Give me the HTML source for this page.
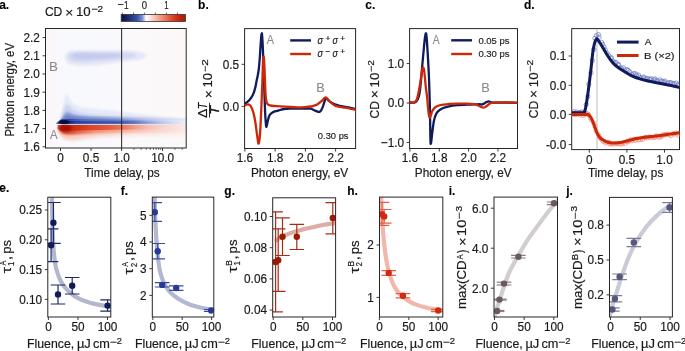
<!DOCTYPE html>
<html><head><meta charset="utf-8"><style>
html,body{margin:0;padding:0;background:#fff;width:685px;height:351px;overflow:hidden;}
svg{display:block;font-family:"Liberation Sans", sans-serif;will-change:transform;}
</style></head><body>
<svg width="685" height="351" viewBox="0 0 685 351" font-family='"Liberation Sans", sans-serif'><defs><clipPath id="clipA"><rect x="45.5" y="28.5" width="140.7" height="119.5"/></clipPath><filter id="bl1" x="-20%" y="-50%" width="140%" height="200%"><feGaussianBlur stdDeviation="1.0"/></filter><filter id="bl2" x="-20%" y="-50%" width="140%" height="200%"><feGaussianBlur stdDeviation="1.8"/></filter><filter id="bl05" x="-20%" y="-50%" width="140%" height="200%"><feGaussianBlur stdDeviation="0.6"/></filter><linearGradient id="bgA" x1="45" x2="186" y1="0" y2="0" gradientUnits="userSpaceOnUse"><stop offset="0" stop-color="#fcf6f6"/><stop offset="0.07" stop-color="#fbf7f9"/><stop offset="0.12" stop-color="#f8f9fd"/><stop offset="0.53" stop-color="#f9f9fd"/><stop offset="0.55" stop-color="#fbf9fb"/><stop offset="1" stop-color="#fcf8f8"/></linearGradient><linearGradient id="blueBand" x1="56" x2="186" y1="0" y2="0" gradientUnits="userSpaceOnUse">
<stop offset="0" stop-color="#3a50a8"/><stop offset="0.04" stop-color="#0c1248"/><stop offset="0.1" stop-color="#142060"/><stop offset="0.15" stop-color="#2a40a4"/><stop offset="0.3" stop-color="#3450ae"/><stop offset="0.51" stop-color="#3e58b2"/><stop offset="0.6" stop-color="#5a70bc"/><stop offset="0.7" stop-color="#8a9ad4"/><stop offset="0.8" stop-color="#b4c0e8"/><stop offset="0.9" stop-color="#d4dbf2"/><stop offset="1" stop-color="#eceff9"/></linearGradient><linearGradient id="blueBandU" x1="56" x2="186" y1="0" y2="0" gradientUnits="userSpaceOnUse">
<stop offset="0" stop-color="#5068b8"/><stop offset="0.05" stop-color="#2a3a88"/><stop offset="0.12" stop-color="#3a50ac"/><stop offset="0.2" stop-color="#566cbc"/><stop offset="0.4" stop-color="#6078c0"/><stop offset="0.51" stop-color="#6a80c4"/><stop offset="0.6" stop-color="#8090ce"/><stop offset="0.7" stop-color="#a6b2e0"/><stop offset="0.8" stop-color="#c8d0ee"/><stop offset="0.9" stop-color="#dfe4f5"/><stop offset="1" stop-color="#f0f2fa"/></linearGradient><linearGradient id="blueL4" x1="56" x2="186" y1="0" y2="0" gradientUnits="userSpaceOnUse">
<stop offset="0" stop-color="#6a80c8"/><stop offset="0.3" stop-color="#7e92cc"/><stop offset="0.5" stop-color="#94a4d8"/><stop offset="0.7" stop-color="#b8c2e8"/><stop offset="1" stop-color="#e4e8f7"/></linearGradient><linearGradient id="blueL3" x1="56" x2="186" y1="0" y2="0" gradientUnits="userSpaceOnUse">
<stop offset="0" stop-color="#8a9cd8"/><stop offset="0.4" stop-color="#a4b2e2"/><stop offset="0.7" stop-color="#c4cdee"/><stop offset="1" stop-color="#e8ebf8"/></linearGradient><linearGradient id="redBand" x1="57" x2="186" y1="0" y2="0" gradientUnits="userSpaceOnUse">
<stop offset="0" stop-color="#e05a3a"/><stop offset="0.04" stop-color="#c01c04"/><stop offset="0.13" stop-color="#cc2c0e"/><stop offset="0.25" stop-color="#dc4424"/><stop offset="0.4" stop-color="#e65a3a"/><stop offset="0.51" stop-color="#ec7456"/><stop offset="0.6" stop-color="#f29c84"/><stop offset="0.7" stop-color="#f6bcae"/><stop offset="0.82" stop-color="#f9d6ce"/><stop offset="1" stop-color="#fce8e4"/></linearGradient><linearGradient id="redLow" x1="57" x2="186" y1="0" y2="0" gradientUnits="userSpaceOnUse">
<stop offset="0" stop-color="#ec8060"/><stop offset="0.05" stop-color="#cc3414"/><stop offset="0.1" stop-color="#d84428"/><stop offset="0.16" stop-color="#e46448"/><stop offset="0.3" stop-color="#f09078"/><stop offset="0.51" stop-color="#f6b0a0"/><stop offset="0.72" stop-color="#f9cec4"/><stop offset="1" stop-color="#fcebe8"/></linearGradient><linearGradient id="redFade" x1="57" x2="186" y1="0" y2="0" gradientUnits="userSpaceOnUse">
<stop offset="0" stop-color="#f8c8bc"/><stop offset="0.3" stop-color="#f9d8ce"/><stop offset="0.6" stop-color="#fbe8e4"/><stop offset="1" stop-color="#fcf1ef"/></linearGradient><linearGradient id="cbar" x1="0" x2="1" y1="0" y2="0">
<stop offset="0" stop-color="#081040"/><stop offset="0.12" stop-color="#1a2d78"/><stop offset="0.25" stop-color="#3654a8"/>
<stop offset="0.33" stop-color="#7b90d8"/><stop offset="0.37" stop-color="#dde2f6"/><stop offset="0.39" stop-color="#ffffff"/>
<stop offset="0.44" stop-color="#fde8e4"/><stop offset="0.55" stop-color="#f6b4a6"/><stop offset="0.70" stop-color="#ec7256"/>
<stop offset="0.82" stop-color="#dc3a1c"/><stop offset="0.92" stop-color="#c22208"/><stop offset="1" stop-color="#a81c06"/></linearGradient><clipPath id="clipB"><rect x="244.6" y="28.6" width="111" height="119.9"/></clipPath><clipPath id="clipC"><rect x="409.6" y="28.6" width="107.9" height="119.9"/></clipPath><clipPath id="clipD"><rect x="571.7" y="28.6" width="107.8" height="121"/></clipPath><clipPath id="clipE"><rect x="47.8" y="197.2" width="63" height="119.8"/></clipPath><clipPath id="clipF"><rect x="152.3" y="197.1" width="61.5" height="119.9"/></clipPath><clipPath id="clipG"><rect x="272.7" y="197.8" width="62.9" height="119.2"/></clipPath><clipPath id="clipH"><rect x="379.5" y="197.1" width="63.3" height="119.9"/></clipPath><clipPath id="clipI"><rect x="494" y="197.1" width="63.5" height="119.9"/></clipPath><clipPath id="clipJ"><rect x="609.5" y="197.4" width="62.9" height="119.6"/></clipPath></defs><rect width="685" height="351" fill="#ffffff"/><text transform="translate(-0.85 9) scale(1 1.04)" font-size="12" text-anchor="start" font-weight="bold" fill="#000" stroke="#000" stroke-width="0.1">a.</text>
<text transform="translate(198.05 9.4) scale(1 1.04)" font-size="12" text-anchor="start" font-weight="bold" fill="#000" stroke="#000" stroke-width="0.1">b.</text>
<text transform="translate(365.35 9.4) scale(1 1.04)" font-size="12" text-anchor="start" font-weight="bold" fill="#000" stroke="#000" stroke-width="0.1">c.</text>
<text transform="translate(523.95 9.3) scale(1 1.04)" font-size="12" text-anchor="start" font-weight="bold" fill="#000" stroke="#000" stroke-width="0.1">d.</text>
<text transform="translate(-0.65 192.4) scale(1 1.04)" font-size="12" text-anchor="start" font-weight="bold" fill="#000" stroke="#000" stroke-width="0.1">e.</text>
<text transform="translate(120.8 195) scale(1 1.04)" font-size="12" text-anchor="start" font-weight="bold" fill="#000" stroke="#000" stroke-width="0.1">f.</text>
<text transform="translate(224.35 194.8) scale(1 1.04)" font-size="12" text-anchor="start" font-weight="bold" fill="#000" stroke="#000" stroke-width="0.1">g.</text>
<text transform="translate(347.25 194.8) scale(1 1.04)" font-size="12" text-anchor="start" font-weight="bold" fill="#000" stroke="#000" stroke-width="0.1">h.</text>
<text transform="translate(448.65 194.8) scale(1 1.04)" font-size="12" text-anchor="start" font-weight="bold" fill="#000" stroke="#000" stroke-width="0.1">i.</text>
<text transform="translate(566.15 194.8) scale(1 1.04)" font-size="12" text-anchor="start" font-weight="bold" fill="#000" stroke="#000" stroke-width="0.1">j.</text>
<g clip-path="url(#clipA)">
<rect x="45.5" y="28.5" width="140.7" height="119.5" fill="url(#bgA)"/>
<g filter="url(#bl1)">
<path d="M65,57 C65,51.5 70,50.2 78,50.2 L128,50.6 C138,50.9 146,52.5 146,55.5 C146,58.5 140,60 132,60.5 L112,63.5 C100,65.5 86,66 76,65.5 C68,65 65,61.5 65,57 Z" fill="#e4e7f6"/>
<path d="M68,56.5 C68,52.5 73,51.6 81,51.7 L124,52.3 C131,52.6 136,53.8 136,55.6 C136,57.4 131,58.4 124,58.8 L96,61.5 C84,62.6 74,62 70,60.5 C68.5,59.6 68,58.2 68,56.5 Z" fill="#d3d8f2"/>
<path d="M72,55.8 C72,53.6 76,53.0 83,53.1 L112,53.6 C117,53.8 121,54.6 121,55.7 C121,56.9 117,57.6 112,57.9 L88,59.2 C79,59.6 72,58.6 72,55.8 Z" fill="#c4cbed"/>
</g>
<path d="M58,127 L186,127 L186,137 L140,136.5 L100,137 L78,140 C66,142 58,138 58,127 Z" fill="url(#redFade)" filter="url(#bl2)"/>
<path d="M57,123.5 L60,119 L62.5,108 L64.8,97 L66.3,93.5 L68,96 L70.5,100.5 L74,104 L81,107.2 L90,108.6 L100,109.4 L112,110.6 L125,112 L140,114 L160,116.3 L180,118.3 L190,119 L190,123.5 Z" fill="#e5e9f8" filter="url(#bl1)"/>
<path d="M58.5,123.5 L61.5,117 L63.5,110 L65.5,105 L67,103.8 L69.5,106 L73,109.5 L80,112.5 L90,114.5 L102,115.6 L115,116.5 L130,117.2 L150,118.2 L170,119.3 L190,120.2 L190,123.5 Z" fill="#ccd3f0" filter="url(#bl1)"/>
<path d="M59.5,123.5 L62.5,118.5 L64.5,114 L66.5,111.5 L69,112.5 L73,114.5 L80,116.3 L90,117.3 L105,118 L125,118.6 L150,119.4 L170,120.2 L190,120.8 L190,123.5 Z" fill="url(#blueL3)" filter="url(#bl1)"/>
<path d="M60,123.5 L62.5,118.5 L65,115.5 L69,115.2 L76,116.3 L90,117.0 L120,117.6 L150,118.6 L190,119.6 L190,123.5 Z" fill="url(#blueL4)" filter="url(#bl1)"/>
<path d="M56,123.6 C57.5,122 59,120.3 61.5,119.2 L72,118.8 L90,119.2 L120,119.6 L150,120.2 L190,120.8 L190,123.6 Z" fill="url(#blueBandU)" filter="url(#bl05)"/>
<path d="M56,123.7 C57.5,122.6 59,121.6 61.5,121.0 L72,120.9 L90,121.0 L120,121.2 L150,121.5 L190,121.8 L190,123.7 Z" fill="url(#blueBand)" filter="url(#bl05)"/>
<ellipse cx="64.2" cy="121.9" rx="4.8" ry="1.8" fill="#05083a" filter="url(#bl05)"/>
<path d="M58,128 L190,128 L190,133 L140,132.8 L100,133.3 L78,134.2 C66,135.5 58.5,133.5 58,128 Z" fill="url(#redLow)" filter="url(#bl1)"/>
<path d="M57.6,125.0 L190,125.0 L190,129.6 L140,129.6 L100,129.9 L78,130.5 C66,131.5 58.2,131 57.6,128.5 Z" fill="url(#redBand)" filter="url(#bl05)"/>
<ellipse cx="65.5" cy="128.2" rx="6" ry="2.8" fill="#a00800" filter="url(#bl1)"/>
</g>
<rect x="45.5" y="28.5" width="140.7" height="119.5" fill="none" stroke="#262626" stroke-width="1"/>
<line x1="121.6" y1="28.5" x2="121.6" y2="148" stroke="#333" stroke-width="1.1"/>
<line x1="42.5" y1="37.6" x2="45.5" y2="37.6" stroke="#262626" stroke-width="0.9"/>
<text transform="translate(39.8 41.9) scale(1 1.07)" font-size="11.8" text-anchor="end" font-weight="normal" fill="#1a1a1a" stroke="#1a1a1a" stroke-width="0.18">2.2</text>
<line x1="42.5" y1="55.8" x2="45.5" y2="55.8" stroke="#262626" stroke-width="0.9"/>
<text transform="translate(39.8 60.1) scale(1 1.07)" font-size="11.8" text-anchor="end" font-weight="normal" fill="#1a1a1a" stroke="#1a1a1a" stroke-width="0.18">2.1</text>
<line x1="42.5" y1="74" x2="45.5" y2="74" stroke="#262626" stroke-width="0.9"/>
<text transform="translate(39.8 78.3) scale(1 1.07)" font-size="11.8" text-anchor="end" font-weight="normal" fill="#1a1a1a" stroke="#1a1a1a" stroke-width="0.18">2.0</text>
<line x1="42.5" y1="92.2" x2="45.5" y2="92.2" stroke="#262626" stroke-width="0.9"/>
<text transform="translate(39.8 96.5) scale(1 1.07)" font-size="11.8" text-anchor="end" font-weight="normal" fill="#1a1a1a" stroke="#1a1a1a" stroke-width="0.18">1.9</text>
<line x1="42.5" y1="110.4" x2="45.5" y2="110.4" stroke="#262626" stroke-width="0.9"/>
<text transform="translate(39.8 114.7) scale(1 1.07)" font-size="11.8" text-anchor="end" font-weight="normal" fill="#1a1a1a" stroke="#1a1a1a" stroke-width="0.18">1.8</text>
<line x1="42.5" y1="128.6" x2="45.5" y2="128.6" stroke="#262626" stroke-width="0.9"/>
<text transform="translate(39.8 132.9) scale(1 1.07)" font-size="11.8" text-anchor="end" font-weight="normal" fill="#1a1a1a" stroke="#1a1a1a" stroke-width="0.18">1.7</text>
<line x1="42.5" y1="146.8" x2="45.5" y2="146.8" stroke="#262626" stroke-width="0.9"/>
<text transform="translate(39.8 151.1) scale(1 1.07)" font-size="11.8" text-anchor="end" font-weight="normal" fill="#1a1a1a" stroke="#1a1a1a" stroke-width="0.18">1.6</text>
<line x1="60.5" y1="148" x2="60.5" y2="151" stroke="#262626" stroke-width="0.9"/>
<text transform="translate(60.5 162.3) scale(1 1.07)" font-size="11.8" text-anchor="middle" font-weight="normal" fill="#1a1a1a" stroke="#1a1a1a" stroke-width="0.18">0</text>
<line x1="91.05" y1="148" x2="91.05" y2="151" stroke="#262626" stroke-width="0.9"/>
<text transform="translate(91.05 162.3) scale(1 1.07)" font-size="11.8" text-anchor="middle" font-weight="normal" fill="#1a1a1a" stroke="#1a1a1a" stroke-width="0.18">0.5</text>
<line x1="121.6" y1="148" x2="121.6" y2="151" stroke="#262626" stroke-width="0.9"/>
<text transform="translate(121.6 162.3) scale(1 1.07)" font-size="11.8" text-anchor="middle" font-weight="normal" fill="#1a1a1a" stroke="#1a1a1a" stroke-width="0.18">1.0</text>
<line x1="162.6" y1="148" x2="162.6" y2="151" stroke="#262626" stroke-width="0.9"/>
<text transform="translate(162.6 162.3) scale(1 1.07)" font-size="11.8" text-anchor="middle" font-weight="normal" fill="#1a1a1a" stroke="#1a1a1a" stroke-width="0.18">10.0</text>
<line x1="133.94" y1="148" x2="133.94" y2="150" stroke="#262626" stroke-width="0.6"/>
<line x1="141.16" y1="148" x2="141.16" y2="150" stroke="#262626" stroke-width="0.6"/>
<line x1="146.28" y1="148" x2="146.28" y2="150" stroke="#262626" stroke-width="0.6"/>
<line x1="150.26" y1="148" x2="150.26" y2="150" stroke="#262626" stroke-width="0.6"/>
<line x1="153.5" y1="148" x2="153.5" y2="150" stroke="#262626" stroke-width="0.6"/>
<line x1="156.25" y1="148" x2="156.25" y2="150" stroke="#262626" stroke-width="0.6"/>
<line x1="158.63" y1="148" x2="158.63" y2="150" stroke="#262626" stroke-width="0.6"/>
<line x1="160.72" y1="148" x2="160.72" y2="150" stroke="#262626" stroke-width="0.6"/>
<line x1="174.94" y1="148" x2="174.94" y2="150" stroke="#262626" stroke-width="0.6"/>
<line x1="182.16" y1="148" x2="182.16" y2="150" stroke="#262626" stroke-width="0.6"/>
<text transform="translate(84.35 177) scale(1 1.07)" font-size="11.8" font-weight="normal" fill="#1a1a1a" stroke="#1a1a1a" stroke-width="0.18" textLength="75.36" lengthAdjust="spacingAndGlyphs">Time delay, ps</text>
<g transform="translate(14.4 135.7) rotate(-90)"><text transform="translate(-0.92 0) scale(1 1.07)" font-size="11.8" font-weight="normal" fill="#1a1a1a" stroke="#1a1a1a" stroke-width="0.18" textLength="93.69" lengthAdjust="spacingAndGlyphs">Photon energy, eV</text></g>
<text transform="translate(49.03 70.7) scale(1 1.07)" font-size="11.8" font-weight="normal" fill="#8a8a8a" stroke="#8a8a8a" stroke-width="0.1" textLength="8.87" lengthAdjust="spacingAndGlyphs">B</text>
<text transform="translate(49.95 138.5) scale(1 1.07)" font-size="11.8" font-weight="normal" fill="#8a8a8a" stroke="#8a8a8a" stroke-width="0.1" textLength="7.57" lengthAdjust="spacingAndGlyphs">A</text>
<text transform="translate(44.89 16.3) scale(1 1.07)" font-size="11.8" font-weight="normal" fill="#1a1a1a" stroke="#1a1a1a" stroke-width="0.18" textLength="17.42" lengthAdjust="spacingAndGlyphs">CD</text>
<text transform="translate(65.16 16.67) scale(1 1.07)" font-size="12.5" font-weight="normal" fill="#1a1a1a" stroke="#1a1a1a" stroke-width="0.15" textLength="8.08" lengthAdjust="spacingAndGlyphs">×</text>
<text transform="translate(75.89 16.3) scale(1 1.07)" font-size="11.8" font-weight="normal" fill="#1a1a1a" stroke="#1a1a1a" stroke-width="0.18" textLength="14.74" lengthAdjust="spacingAndGlyphs">10</text>
<text transform="translate(91.17 12.24) scale(1 1.07)" font-size="8.3" font-weight="normal" fill="#1a1a1a" stroke="#1a1a1a" stroke-width="0.18" textLength="6.46" lengthAdjust="spacingAndGlyphs">−</text>
<text transform="translate(97.62 11.9) scale(1 1.07)" font-size="8.3" font-weight="normal" fill="#1a1a1a" stroke="#1a1a1a" stroke-width="0.18" textLength="5.59" lengthAdjust="spacingAndGlyphs">2</text>
<rect x="121.2" y="14.4" width="64.2" height="7" fill="url(#cbar)" stroke="#333" stroke-width="0.8"/>
<line x1="122.6" y1="14.4" x2="122.6" y2="12.6" stroke="#262626" stroke-width="0.7"/>
<line x1="133.5" y1="14.4" x2="133.5" y2="12.6" stroke="#262626" stroke-width="0.7"/>
<line x1="144.4" y1="14.4" x2="144.4" y2="12.6" stroke="#262626" stroke-width="0.7"/>
<line x1="155.4" y1="14.4" x2="155.4" y2="12.6" stroke="#262626" stroke-width="0.7"/>
<line x1="166.4" y1="14.4" x2="166.4" y2="12.6" stroke="#262626" stroke-width="0.7"/>
<line x1="177.4" y1="14.4" x2="177.4" y2="12.6" stroke="#262626" stroke-width="0.7"/>
<text transform="translate(117.26 7.98) scale(1 1.07)" font-size="10" font-weight="normal" fill="#1a1a1a" stroke="#1a1a1a" stroke-width="0.15" textLength="6.26" lengthAdjust="spacingAndGlyphs">−</text>
<text transform="translate(123.97 8.8) scale(1 1.07)" font-size="10.5" font-weight="normal" fill="#1a1a1a" stroke="#1a1a1a" stroke-width="0.18" textLength="4.62" lengthAdjust="spacingAndGlyphs">1</text>
<text transform="translate(141.64 8.8) scale(1 1.07)" font-size="10.5" font-weight="normal" fill="#1a1a1a" stroke="#1a1a1a" stroke-width="0.18" textLength="5.32" lengthAdjust="spacingAndGlyphs">0</text>
<text transform="translate(164.2 8.8) scale(1 1.07)" font-size="10.5" font-weight="normal" fill="#1a1a1a" stroke="#1a1a1a" stroke-width="0.18" textLength="4.36" lengthAdjust="spacingAndGlyphs">1</text>
<rect x="244.6" y="28.6" width="111" height="119.9" fill="none" stroke="#262626" stroke-width="1"/>
<line x1="241.6" y1="64.3" x2="244.6" y2="64.3" stroke="#262626" stroke-width="0.9"/>
<text transform="translate(239.1 68.6) scale(1 1.07)" font-size="11.8" text-anchor="end" font-weight="normal" fill="#1a1a1a" stroke="#1a1a1a" stroke-width="0.18">0.5</text>
<line x1="241.6" y1="106.4" x2="244.6" y2="106.4" stroke="#262626" stroke-width="0.9"/>
<text transform="translate(239.1 110.7) scale(1 1.07)" font-size="11.8" text-anchor="end" font-weight="normal" fill="#1a1a1a" stroke="#1a1a1a" stroke-width="0.18">0.0</text>
<line x1="244.9" y1="148.5" x2="244.9" y2="151.5" stroke="#262626" stroke-width="0.9"/>
<text transform="translate(244.9 162.3) scale(1 1.07)" font-size="11.8" text-anchor="middle" font-weight="normal" fill="#1a1a1a" stroke="#1a1a1a" stroke-width="0.18">1.6</text>
<line x1="275.14" y1="148.5" x2="275.14" y2="151.5" stroke="#262626" stroke-width="0.9"/>
<text transform="translate(275.14 162.3) scale(1 1.07)" font-size="11.8" text-anchor="middle" font-weight="normal" fill="#1a1a1a" stroke="#1a1a1a" stroke-width="0.18">1.8</text>
<line x1="305.38" y1="148.5" x2="305.38" y2="151.5" stroke="#262626" stroke-width="0.9"/>
<text transform="translate(305.38 162.3) scale(1 1.07)" font-size="11.8" text-anchor="middle" font-weight="normal" fill="#1a1a1a" stroke="#1a1a1a" stroke-width="0.18">2.0</text>
<line x1="335.62" y1="148.5" x2="335.62" y2="151.5" stroke="#262626" stroke-width="0.9"/>
<text transform="translate(335.62 162.3) scale(1 1.07)" font-size="11.8" text-anchor="middle" font-weight="normal" fill="#1a1a1a" stroke="#1a1a1a" stroke-width="0.18">2.2</text>
<text transform="translate(250.95 177) scale(1 1.07)" font-size="11.8" font-weight="normal" fill="#1a1a1a" stroke="#1a1a1a" stroke-width="0.18" textLength="97.32" lengthAdjust="spacingAndGlyphs">Photon energy, eV</text>
<g transform="translate(213.4 117.6) rotate(-90)"><text transform="translate(-0.42 -6.9) scale(1 1.07)" font-size="11.8" font-weight="normal" fill="#1a1a1a" stroke="#1a1a1a" stroke-width="0.18" textLength="9.41" lengthAdjust="spacingAndGlyphs">Δ</text><text transform="translate(8.45 -6.9) scale(1 1.07)" font-size="11.8" font-weight="normal" fill="#1a1a1a" font-style="italic" stroke="#1a1a1a" stroke-width="0.18" textLength="6.52" lengthAdjust="spacingAndGlyphs">T</text><line x1="0" y1="-3.9" x2="14.8" y2="-3.9" stroke="#1a1a1a" stroke-width="0.9"/><text transform="translate(2.48 5.5) scale(1 1.07)" font-size="11.8" font-weight="normal" fill="#1a1a1a" font-style="italic" stroke="#1a1a1a" stroke-width="0.18" textLength="9.05" lengthAdjust="spacingAndGlyphs">T</text><text transform="translate(19.46 -0.73) scale(1 1.07)" font-size="12.5" font-weight="normal" fill="#1a1a1a" stroke="#1a1a1a" stroke-width="0.15" textLength="8.08" lengthAdjust="spacingAndGlyphs">×</text><text transform="translate(30.2 -1.2) scale(1 1.07)" font-size="11.8" font-weight="normal" fill="#1a1a1a" stroke="#1a1a1a" stroke-width="0.18" textLength="14.52" lengthAdjust="spacingAndGlyphs">10</text><text transform="translate(45.38 -5.46) scale(1 1.07)" font-size="8.3" font-weight="normal" fill="#1a1a1a" stroke="#1a1a1a" stroke-width="0.18" textLength="6.34" lengthAdjust="spacingAndGlyphs">−</text><text transform="translate(51.83 -5.8) scale(1 1.07)" font-size="8.3" font-weight="normal" fill="#1a1a1a" stroke="#1a1a1a" stroke-width="0.18" textLength="6.56" lengthAdjust="spacingAndGlyphs">2</text></g>
<text transform="translate(266.65 43.9) scale(1 1.07)" font-size="11.8" font-weight="normal" fill="#8a8a8a" stroke="#8a8a8a" stroke-width="0.1" textLength="7.26" lengthAdjust="spacingAndGlyphs">A</text>
<text transform="translate(316.27 91.9) scale(1 1.07)" font-size="11.8" font-weight="normal" fill="#8a8a8a" stroke="#8a8a8a" stroke-width="0.1" textLength="8.49" lengthAdjust="spacingAndGlyphs">B</text>
<text transform="translate(317.84 138.8)" font-size="9.2" font-weight="normal" fill="#1a1a1a" stroke="#1a1a1a" stroke-width="0.15" textLength="30.69" lengthAdjust="spacingAndGlyphs">0.30 ps</text>
<line x1="290.2" y1="40.4" x2="311" y2="40.4" stroke="#0f1b5a" stroke-width="2.4"/>
<line x1="290.2" y1="54" x2="311" y2="54" stroke="#cc2808" stroke-width="2.4"/>
<text transform="translate(317.39 43.8) scale(1 1.07)" font-size="10.5" font-weight="normal" fill="#1a1a1a" font-style="italic" stroke="#1a1a1a" stroke-width="0.18" textLength="5.53" lengthAdjust="spacingAndGlyphs">σ</text>
<text transform="translate(325.51 40.87) scale(1 1.07)" font-size="7.5" font-weight="normal" fill="#1a1a1a" stroke="#1a1a1a" stroke-width="0.18" textLength="4.92" lengthAdjust="spacingAndGlyphs">+</text>
<text transform="translate(332.5 43.8) scale(1 1.07)" font-size="10.5" font-weight="normal" fill="#1a1a1a" font-style="italic" stroke="#1a1a1a" stroke-width="0.18" textLength="5.43" lengthAdjust="spacingAndGlyphs">σ</text>
<text transform="translate(340.31 40.87) scale(1 1.07)" font-size="7.5" font-weight="normal" fill="#1a1a1a" stroke="#1a1a1a" stroke-width="0.18" textLength="4.92" lengthAdjust="spacingAndGlyphs">+</text>
<text transform="translate(317.39 57.2) scale(1 1.07)" font-size="10.5" font-weight="normal" fill="#1a1a1a" font-style="italic" stroke="#1a1a1a" stroke-width="0.18" textLength="5.53" lengthAdjust="spacingAndGlyphs">σ</text>
<text transform="translate(325.51 54.25) scale(1 1.07)" font-size="7.5" font-weight="normal" fill="#1a1a1a" stroke="#1a1a1a" stroke-width="0.18" textLength="4.92" lengthAdjust="spacingAndGlyphs">−</text>
<text transform="translate(332.5 57.2) scale(1 1.07)" font-size="10.5" font-weight="normal" fill="#1a1a1a" font-style="italic" stroke="#1a1a1a" stroke-width="0.18" textLength="5.43" lengthAdjust="spacingAndGlyphs">σ</text>
<text transform="translate(340.31 54.27) scale(1 1.07)" font-size="7.5" font-weight="normal" fill="#1a1a1a" stroke="#1a1a1a" stroke-width="0.18" textLength="4.92" lengthAdjust="spacingAndGlyphs">+</text>
<rect x="409.6" y="28.6" width="107.9" height="119.9" fill="none" stroke="#262626" stroke-width="1"/>
<line x1="406.6" y1="63.55" x2="409.6" y2="63.55" stroke="#262626" stroke-width="0.9"/>
<text transform="translate(404.1 67.85) scale(1 1.07)" font-size="11.8" text-anchor="end" font-weight="normal" fill="#1a1a1a" stroke="#1a1a1a" stroke-width="0.18">1.0</text>
<line x1="406.6" y1="103" x2="409.6" y2="103" stroke="#262626" stroke-width="0.9"/>
<text transform="translate(404.1 107.3) scale(1 1.07)" font-size="11.8" text-anchor="end" font-weight="normal" fill="#1a1a1a" stroke="#1a1a1a" stroke-width="0.18">0.0</text>
<line x1="406.6" y1="142.45" x2="409.6" y2="142.45" stroke="#262626" stroke-width="0.9"/>
<text transform="translate(404.1 146.75) scale(1 1.07)" font-size="11.8" text-anchor="end" font-weight="normal" fill="#1a1a1a" stroke="#1a1a1a" stroke-width="0.18">−1.0</text>
<line x1="409.9" y1="148.5" x2="409.9" y2="151.5" stroke="#262626" stroke-width="0.9"/>
<text transform="translate(409.9 162.3) scale(1 1.07)" font-size="11.8" text-anchor="middle" font-weight="normal" fill="#1a1a1a" stroke="#1a1a1a" stroke-width="0.18">1.6</text>
<line x1="439.26" y1="148.5" x2="439.26" y2="151.5" stroke="#262626" stroke-width="0.9"/>
<text transform="translate(439.26 162.3) scale(1 1.07)" font-size="11.8" text-anchor="middle" font-weight="normal" fill="#1a1a1a" stroke="#1a1a1a" stroke-width="0.18">1.8</text>
<line x1="468.62" y1="148.5" x2="468.62" y2="151.5" stroke="#262626" stroke-width="0.9"/>
<text transform="translate(468.62 162.3) scale(1 1.07)" font-size="11.8" text-anchor="middle" font-weight="normal" fill="#1a1a1a" stroke="#1a1a1a" stroke-width="0.18">2.0</text>
<line x1="497.98" y1="148.5" x2="497.98" y2="151.5" stroke="#262626" stroke-width="0.9"/>
<text transform="translate(497.98 162.3) scale(1 1.07)" font-size="11.8" text-anchor="middle" font-weight="normal" fill="#1a1a1a" stroke="#1a1a1a" stroke-width="0.18">2.2</text>
<text transform="translate(414.85 177) scale(1 1.07)" font-size="11.8" font-weight="normal" fill="#1a1a1a" stroke="#1a1a1a" stroke-width="0.18" textLength="96.72" lengthAdjust="spacingAndGlyphs">Photon energy, eV</text>
<g transform="translate(378.5 117.8) rotate(-90)"><text transform="translate(-0.61 0) scale(1 1.07)" font-size="11.8" font-weight="normal" fill="#1a1a1a" stroke="#1a1a1a" stroke-width="0.18" textLength="17.42" lengthAdjust="spacingAndGlyphs">CD</text><text transform="translate(19.66 0.37) scale(1 1.07)" font-size="12.5" font-weight="normal" fill="#1a1a1a" stroke="#1a1a1a" stroke-width="0.15" textLength="8.08" lengthAdjust="spacingAndGlyphs">×</text><text transform="translate(30.39 0) scale(1 1.07)" font-size="11.8" font-weight="normal" fill="#1a1a1a" stroke="#1a1a1a" stroke-width="0.18" textLength="14.74" lengthAdjust="spacingAndGlyphs">10</text><text transform="translate(45.67 -4.06) scale(1 1.07)" font-size="8.3" font-weight="normal" fill="#1a1a1a" stroke="#1a1a1a" stroke-width="0.18" textLength="6.46" lengthAdjust="spacingAndGlyphs">−</text><text transform="translate(52.12 -4.4) scale(1 1.07)" font-size="8.3" font-weight="normal" fill="#1a1a1a" stroke="#1a1a1a" stroke-width="0.18" textLength="5.59" lengthAdjust="spacingAndGlyphs">2</text></g>
<text transform="translate(432.86 43.9) scale(1 1.07)" font-size="11.8" font-weight="normal" fill="#8a8a8a" stroke="#8a8a8a" stroke-width="0.1" textLength="6.86" lengthAdjust="spacingAndGlyphs">A</text>
<text transform="translate(481.37 91.9) scale(1 1.07)" font-size="11.8" font-weight="normal" fill="#8a8a8a" stroke="#8a8a8a" stroke-width="0.1" textLength="8.49" lengthAdjust="spacingAndGlyphs">B</text>
<line x1="451.2" y1="40.3" x2="472" y2="40.3" stroke="#0f1b5a" stroke-width="2.4"/>
<line x1="451.2" y1="54" x2="472" y2="54" stroke="#cc2808" stroke-width="2.4"/>
<text transform="translate(478.44 43.8)" font-size="9.2" font-weight="normal" fill="#1a1a1a" stroke="#1a1a1a" stroke-width="0.15" textLength="31.1" lengthAdjust="spacingAndGlyphs">0.05 ps</text>
<text transform="translate(478.44 57.4)" font-size="9.2" font-weight="normal" fill="#1a1a1a" stroke="#1a1a1a" stroke-width="0.15" textLength="31.1" lengthAdjust="spacingAndGlyphs">0.30 ps</text>
<rect x="571.7" y="28.6" width="107.8" height="121" fill="none" stroke="#262626" stroke-width="1"/>
<line x1="568.7" y1="56" x2="571.7" y2="56" stroke="#262626" stroke-width="0.9"/>
<text transform="translate(566.2 60.3) scale(1 1.07)" font-size="11.8" text-anchor="end" font-weight="normal" fill="#1a1a1a" stroke="#1a1a1a" stroke-width="0.18">0.1</text>
<line x1="568.7" y1="85.3" x2="571.7" y2="85.3" stroke="#262626" stroke-width="0.9"/>
<text transform="translate(566.2 89.6) scale(1 1.07)" font-size="11.8" text-anchor="end" font-weight="normal" fill="#1a1a1a" stroke="#1a1a1a" stroke-width="0.18">0.0</text>
<line x1="568.7" y1="114.4" x2="571.7" y2="114.4" stroke="#262626" stroke-width="0.9"/>
<text transform="translate(566.2 118.7) scale(1 1.07)" font-size="11.8" text-anchor="end" font-weight="normal" fill="#1a1a1a" stroke="#1a1a1a" stroke-width="0.18">0.0</text>
<line x1="568.7" y1="144.6" x2="571.7" y2="144.6" stroke="#262626" stroke-width="0.9"/>
<text transform="translate(566.2 148.9) scale(1 1.07)" font-size="11.8" text-anchor="end" font-weight="normal" fill="#1a1a1a" stroke="#1a1a1a" stroke-width="0.18">-0.0</text>
<line x1="589.3" y1="149.6" x2="589.3" y2="152.6" stroke="#262626" stroke-width="0.9"/>
<text transform="translate(589.3 163.5) scale(1 1.07)" font-size="11.8" text-anchor="middle" font-weight="normal" fill="#1a1a1a" stroke="#1a1a1a" stroke-width="0.18">0</text>
<line x1="626.9" y1="149.6" x2="626.9" y2="152.6" stroke="#262626" stroke-width="0.9"/>
<text transform="translate(626.9 163.5) scale(1 1.07)" font-size="11.8" text-anchor="middle" font-weight="normal" fill="#1a1a1a" stroke="#1a1a1a" stroke-width="0.18">0.5</text>
<line x1="664.5" y1="149.6" x2="664.5" y2="152.6" stroke="#262626" stroke-width="0.9"/>
<text transform="translate(664.5 163.5) scale(1 1.07)" font-size="11.8" text-anchor="middle" font-weight="normal" fill="#1a1a1a" stroke="#1a1a1a" stroke-width="0.18">1.0</text>
<text transform="translate(587.95 177) scale(1 1.07)" font-size="11.8" font-weight="normal" fill="#1a1a1a" stroke="#1a1a1a" stroke-width="0.18" textLength="75.36" lengthAdjust="spacingAndGlyphs">Time delay, ps</text>
<g transform="translate(537.5 117.6) rotate(-90)"><text transform="translate(-0.61 0) scale(1 1.07)" font-size="11.8" font-weight="normal" fill="#1a1a1a" stroke="#1a1a1a" stroke-width="0.18" textLength="17.42" lengthAdjust="spacingAndGlyphs">CD</text><text transform="translate(19.66 0.37) scale(1 1.07)" font-size="12.5" font-weight="normal" fill="#1a1a1a" stroke="#1a1a1a" stroke-width="0.15" textLength="8.08" lengthAdjust="spacingAndGlyphs">×</text><text transform="translate(30.39 0) scale(1 1.07)" font-size="11.8" font-weight="normal" fill="#1a1a1a" stroke="#1a1a1a" stroke-width="0.18" textLength="14.74" lengthAdjust="spacingAndGlyphs">10</text><text transform="translate(45.67 -4.06) scale(1 1.07)" font-size="8.3" font-weight="normal" fill="#1a1a1a" stroke="#1a1a1a" stroke-width="0.18" textLength="6.46" lengthAdjust="spacingAndGlyphs">−</text><text transform="translate(52.12 -4.4) scale(1 1.07)" font-size="8.3" font-weight="normal" fill="#1a1a1a" stroke="#1a1a1a" stroke-width="0.18" textLength="5.59" lengthAdjust="spacingAndGlyphs">2</text></g>
<line x1="617" y1="42.1" x2="638.6" y2="42.1" stroke="#0f1b5a" stroke-width="3"/>
<line x1="617" y1="55.5" x2="638.6" y2="55.5" stroke="#cc2808" stroke-width="3"/>
<text transform="translate(644.8 45.3)" font-size="9.2" font-weight="normal" fill="#1a1a1a" stroke="#1a1a1a" stroke-width="0.15" textLength="6.64" lengthAdjust="spacingAndGlyphs">A</text>
<text transform="translate(643.89 58.6)" font-size="9.2" font-weight="normal" fill="#1a1a1a" stroke="#1a1a1a" stroke-width="0.15" textLength="30.69" lengthAdjust="spacingAndGlyphs">B (×2)</text>
<g clip-path="url(#clipB)">
<path d="M243,104 C243.27,103.95 243.67,104.23 244.6,103.7 C245.53,103.17 247.47,101.85 248.6,100.8 C249.73,99.75 250.55,98.73 251.4,97.4 C252.25,96.07 253.03,94.52 253.7,92.8 C254.37,91.08 254.93,89 255.4,87.1 C255.87,85.2 256.12,83.3 256.5,81.4 C256.88,79.5 257.32,77.77 257.7,75.7 C258.08,73.63 258.45,72.03 258.8,69 C259.15,65.97 259.5,61.5 259.8,57.5 C260.1,53.5 260.37,48.42 260.6,45 C260.83,41.58 261.02,38.97 261.2,37 C261.38,35.03 261.53,33.28 261.7,33.2 C261.87,33.12 262.02,34.2 262.2,36.5 C262.38,38.8 262.6,42.75 262.8,47 C263,51.25 263.22,57.17 263.4,62 C263.58,66.83 263.73,71 263.9,76 C264.07,81 264.23,86.83 264.4,92 C264.57,97.17 264.72,102.5 264.9,107 C265.08,111.5 265.28,115.75 265.5,119 C265.72,122.25 265.97,125.5 266.2,126.5 C266.43,127.5 266.62,126 266.9,125 C267.18,124 267.55,121.92 267.9,120.5 C268.25,119.08 268.57,117.58 269,116.5 C269.43,115.42 269.92,114.68 270.5,114 C271.08,113.32 271.78,112.83 272.5,112.4 C273.22,111.97 273.55,111.8 274.8,111.4 C276.05,111 278.47,110.4 280,110 C281.53,109.6 282.33,109.23 284,109 C285.67,108.77 287.83,108.67 290,108.6 C292.17,108.53 294.5,108.6 297,108.6 C299.5,108.6 302.7,108.58 305,108.6 C307.3,108.62 309.27,108.43 310.8,108.7 C312.33,108.97 313.17,109.75 314.2,110.2 C315.23,110.65 316.15,111.1 317,111.4 C317.85,111.7 318.63,112.15 319.3,112 C319.97,111.85 320.42,111.37 321,110.5 C321.58,109.63 322.22,108.3 322.8,106.8 C323.38,105.3 324,102.9 324.5,101.5 C325,100.1 325.3,98.73 325.8,98.4 C326.3,98.07 326.58,98.82 327.5,99.5 C328.42,100.18 330.05,101.72 331.3,102.5 C332.55,103.28 333.57,103.63 335,104.2 C336.43,104.77 337.67,105.38 339.9,105.9 C342.13,106.42 345.78,106.73 348.4,107.3 C351.02,107.87 354.17,108.93 355.6,109.3 C357.03,109.67 356.77,109.47 357,109.5" fill="none" stroke="#0f1b5a" stroke-width="2.3" stroke-linejoin="round" stroke-linecap="round"/>
<path d="M243,105.6 C243.27,105.58 243.85,105.7 244.6,105.5 C245.35,105.3 246.68,104.5 247.5,104.4 C248.32,104.3 248.83,104.4 249.5,104.9 C250.17,105.4 250.83,106.05 251.5,107.4 C252.17,108.75 252.87,110.57 253.5,113 C254.13,115.43 254.75,118.67 255.3,122 C255.85,125.33 256.35,129.75 256.8,133 C257.25,136.25 257.7,139.73 258,141.5 C258.3,143.27 258.38,143.68 258.6,143.6 C258.82,143.52 259.05,142.77 259.3,141 C259.55,139.23 259.85,136.5 260.1,133 C260.35,129.5 260.57,124.83 260.8,120 C261.03,115.17 261.27,109.67 261.5,104 C261.73,98.33 261.98,92 262.2,86 C262.42,80 262.63,72.58 262.8,68 C262.97,63.42 263.08,60.4 263.2,58.5 C263.32,56.6 263.38,56.68 263.5,56.6 C263.62,56.52 263.75,56.43 263.9,58 C264.05,59.57 264.22,62.17 264.4,66 C264.58,69.83 264.82,76.42 265,81 C265.18,85.58 265.28,90.17 265.5,93.5 C265.72,96.83 265.97,99.25 266.3,101 C266.63,102.75 266.88,103.28 267.5,104 C268.12,104.72 268.92,104.97 270,105.3 C271.08,105.63 272.33,105.83 274,106 C275.67,106.17 277.33,106.13 280,106.3 C282.67,106.47 287.15,106.83 290,107 C292.85,107.17 294.6,107.28 297.1,107.3 C299.6,107.32 302.72,107.23 305,107.1 C307.28,106.97 309.3,106.75 310.8,106.5 C312.3,106.25 312.87,105.98 314,105.6 C315.13,105.22 316.28,105 317.6,104.2 C318.92,103.4 320.53,101.93 321.9,100.8 C323.27,99.67 324.52,97.3 325.8,97.4 C327.08,97.5 328.12,100.07 329.6,101.4 C331.08,102.73 332.97,104.5 334.7,105.4 C336.43,106.3 338.28,106.43 340,106.8 C341.72,107.17 343.33,107.3 345,107.6 C346.67,107.9 348.23,108.25 350,108.6 C351.77,108.95 354.43,109.47 355.6,109.7 C356.77,109.93 356.77,109.95 357,110" fill="none" stroke="#cc2808" stroke-width="2.3" stroke-linejoin="round" stroke-linecap="round"/>
</g>
<g clip-path="url(#clipC)">
<path d="M408,102.5 C408.27,102.5 408.6,102.48 409.6,102.5 C410.6,102.52 412.85,102.82 414,102.6 C415.15,102.38 415.75,102.05 416.5,101.2 C417.25,100.35 417.92,99.37 418.5,97.5 C419.08,95.63 419.55,93.25 420,90 C420.45,86.75 420.8,82.33 421.2,78 C421.6,73.67 422,68.5 422.4,64 C422.8,59.5 423.2,55.17 423.6,51 C424,46.83 424.43,41.95 424.8,39 C425.17,36.05 425.5,33.63 425.8,33.3 C426.1,32.97 426.33,34.47 426.6,37 C426.87,39.53 427.13,44.33 427.4,48.5 C427.67,52.67 427.95,57.42 428.2,62 C428.45,66.58 428.7,71.33 428.9,76 C429.1,80.67 429.25,85.33 429.4,90 C429.55,94.67 429.68,99 429.8,104 C429.92,109 430.01,114.83 430.1,120 C430.19,125.17 430.27,131.1 430.35,135 C430.43,138.9 430.46,142.23 430.6,143.4 C430.74,144.57 430.95,143.57 431.2,142 C431.45,140.43 431.67,137.42 432.1,134 C432.53,130.58 433.23,124.58 433.8,121.5 C434.37,118.42 434.93,117.05 435.5,115.5 C436.07,113.95 436.45,113.15 437.2,112.2 C437.95,111.25 439,110.5 440,109.8 C441,109.1 441.7,108.58 443.2,108 C444.7,107.42 446.7,106.77 449,106.3 C451.3,105.83 453.5,105.48 457,105.2 C460.5,104.92 466.83,104.73 470,104.6 C473.17,104.47 474.45,104.47 476,104.4 C477.55,104.33 478.3,104.18 479.3,104.2 C480.3,104.22 481.13,104.63 482,104.5 C482.87,104.37 483.75,103.82 484.5,103.4 C485.25,102.98 485.78,102.35 486.5,102 C487.22,101.65 488,101.25 488.8,101.3 C489.6,101.35 489.43,102.08 491.3,102.3 C493.17,102.52 495.63,102.52 500,102.6 C504.37,102.68 514.33,102.77 517.5,102.8 C520.67,102.83 518.75,102.8 519,102.8" fill="none" stroke="#0f1b5a" stroke-width="2.3" stroke-linejoin="round" stroke-linecap="round"/>
<path d="M408,102 C408.27,102 408.58,101.95 409.6,102 C410.62,102.05 412.92,102.7 414.1,102.3 C415.28,101.9 416.03,100.9 416.7,99.6 C417.37,98.3 417.67,96.35 418.1,94.5 C418.53,92.65 418.92,90.58 419.3,88.5 C419.68,86.42 420.03,84.33 420.4,82 C420.77,79.67 421.17,76.67 421.5,74.5 C421.83,72.33 422.12,70.15 422.4,69 C422.68,67.85 422.93,67.52 423.2,67.6 C423.47,67.68 423.73,68.02 424,69.5 C424.27,70.98 424.52,73.75 424.8,76.5 C425.08,79.25 425.4,83.22 425.7,86 C426,88.78 426.33,91.03 426.6,93.2 C426.87,95.37 427.08,96.78 427.3,99 C427.52,101.22 427.68,104.17 427.9,106.5 C428.12,108.83 428.35,111.25 428.6,113 C428.85,114.75 429.13,116.3 429.4,117 C429.67,117.7 429.93,117.53 430.2,117.2 C430.47,116.87 430.68,115.93 431,115 C431.32,114.07 431.63,112.63 432.1,111.6 C432.57,110.57 433.23,109.55 433.8,108.8 C434.37,108.05 434.37,107.73 435.5,107.1 C436.63,106.47 438.35,105.52 440.6,105 C442.85,104.48 446.25,104.22 449,104 C451.75,103.78 454.27,103.75 457.1,103.7 C459.93,103.65 463.15,103.63 466,103.7 C468.85,103.77 472.12,103.77 474.2,104.1 C476.28,104.43 477.28,105.2 478.5,105.7 C479.72,106.2 480.65,106.78 481.5,107.1 C482.35,107.42 482.85,107.7 483.6,107.6 C484.35,107.5 485.28,106.93 486,106.5 C486.72,106.07 487.02,105.62 487.9,105 C488.78,104.38 489.28,103.23 491.3,102.8 C493.32,102.37 497.15,102.47 500,102.4 C502.85,102.33 505.48,102.33 508.4,102.4 C511.32,102.47 515.73,102.73 517.5,102.8 C519.27,102.87 518.75,102.8 519,102.8" fill="none" stroke="#cc2808" stroke-width="2.3" stroke-linejoin="round" stroke-linecap="round"/>
</g>
<g clip-path="url(#clipD)">
<line x1="597" y1="28.6" x2="597" y2="149.6" stroke="#c8c8c8" stroke-width="1.2"/>
<circle cx="570.69" cy="112.81" r="2.1" fill="none" stroke="#6a78bc" stroke-width="0.7"/>
<circle cx="572.34" cy="112.95" r="2.1" fill="none" stroke="#6a78bc" stroke-width="0.7"/>
<circle cx="574.15" cy="111.66" r="2.1" fill="none" stroke="#6a78bc" stroke-width="0.7"/>
<circle cx="574.92" cy="113.51" r="2.1" fill="none" stroke="#6a78bc" stroke-width="0.7"/>
<circle cx="576.71" cy="112.06" r="2.1" fill="none" stroke="#6a78bc" stroke-width="0.7"/>
<circle cx="579.09" cy="112.63" r="2.1" fill="none" stroke="#6a78bc" stroke-width="0.7"/>
<circle cx="580.4" cy="112.64" r="2.1" fill="none" stroke="#6a78bc" stroke-width="0.7"/>
<circle cx="581.67" cy="111.86" r="2.1" fill="none" stroke="#6a78bc" stroke-width="0.7"/>
<circle cx="583.16" cy="113.58" r="2.1" fill="none" stroke="#6a78bc" stroke-width="0.7"/>
<circle cx="584.53" cy="112.11" r="2.1" fill="none" stroke="#6a78bc" stroke-width="0.7"/>
<circle cx="586.21" cy="104.58" r="2.1" fill="none" stroke="#6a78bc" stroke-width="0.7"/>
<circle cx="587.81" cy="96.47" r="2.1" fill="none" stroke="#6a78bc" stroke-width="0.7"/>
<circle cx="588.76" cy="83.98" r="2.1" fill="none" stroke="#6a78bc" stroke-width="0.7"/>
<circle cx="590.94" cy="72.73" r="2.1" fill="none" stroke="#6a78bc" stroke-width="0.7"/>
<circle cx="592.26" cy="60.45" r="2.1" fill="none" stroke="#6a78bc" stroke-width="0.7"/>
<circle cx="593.76" cy="49.47" r="2.1" fill="none" stroke="#6a78bc" stroke-width="0.7"/>
<circle cx="594.87" cy="38.16" r="2.1" fill="none" stroke="#6a78bc" stroke-width="0.7"/>
<circle cx="596.43" cy="35.55" r="2.1" fill="none" stroke="#6a78bc" stroke-width="0.7"/>
<circle cx="598.45" cy="34.59" r="2.1" fill="none" stroke="#6a78bc" stroke-width="0.7"/>
<circle cx="599.06" cy="37.16" r="2.1" fill="none" stroke="#6a78bc" stroke-width="0.7"/>
<circle cx="601.56" cy="42.18" r="2.1" fill="none" stroke="#6a78bc" stroke-width="0.7"/>
<circle cx="602.65" cy="44.27" r="2.1" fill="none" stroke="#6a78bc" stroke-width="0.7"/>
<circle cx="604.01" cy="46.9" r="2.1" fill="none" stroke="#6a78bc" stroke-width="0.7"/>
<circle cx="605.32" cy="49.92" r="2.1" fill="none" stroke="#6a78bc" stroke-width="0.7"/>
<circle cx="607.1" cy="53.22" r="2.1" fill="none" stroke="#6a78bc" stroke-width="0.7"/>
<circle cx="608.72" cy="55.56" r="2.1" fill="none" stroke="#6a78bc" stroke-width="0.7"/>
<circle cx="610.43" cy="57.85" r="2.1" fill="none" stroke="#6a78bc" stroke-width="0.7"/>
<circle cx="611.71" cy="57.86" r="2.1" fill="none" stroke="#6a78bc" stroke-width="0.7"/>
<circle cx="613.43" cy="61.49" r="2.1" fill="none" stroke="#6a78bc" stroke-width="0.7"/>
<circle cx="614.99" cy="62.25" r="2.1" fill="none" stroke="#6a78bc" stroke-width="0.7"/>
<circle cx="616.26" cy="62.66" r="2.1" fill="none" stroke="#6a78bc" stroke-width="0.7"/>
<circle cx="617.9" cy="64.76" r="2.1" fill="none" stroke="#6a78bc" stroke-width="0.7"/>
<circle cx="618.74" cy="64.68" r="2.1" fill="none" stroke="#6a78bc" stroke-width="0.7"/>
<circle cx="620.92" cy="67.89" r="2.1" fill="none" stroke="#6a78bc" stroke-width="0.7"/>
<circle cx="621.51" cy="68.42" r="2.1" fill="none" stroke="#6a78bc" stroke-width="0.7"/>
<circle cx="623.39" cy="67.83" r="2.1" fill="none" stroke="#6a78bc" stroke-width="0.7"/>
<circle cx="624.75" cy="70.27" r="2.1" fill="none" stroke="#6a78bc" stroke-width="0.7"/>
<circle cx="626.95" cy="69.49" r="2.1" fill="none" stroke="#6a78bc" stroke-width="0.7"/>
<circle cx="628.14" cy="70.32" r="2.1" fill="none" stroke="#6a78bc" stroke-width="0.7"/>
<circle cx="629.76" cy="71.76" r="2.1" fill="none" stroke="#6a78bc" stroke-width="0.7"/>
<circle cx="631.46" cy="74.08" r="2.1" fill="none" stroke="#6a78bc" stroke-width="0.7"/>
<circle cx="632.51" cy="74.89" r="2.1" fill="none" stroke="#6a78bc" stroke-width="0.7"/>
<circle cx="633.77" cy="73.36" r="2.1" fill="none" stroke="#6a78bc" stroke-width="0.7"/>
<circle cx="635.62" cy="73.78" r="2.1" fill="none" stroke="#6a78bc" stroke-width="0.7"/>
<circle cx="636.64" cy="75.22" r="2.1" fill="none" stroke="#6a78bc" stroke-width="0.7"/>
<circle cx="638.63" cy="75.14" r="2.1" fill="none" stroke="#6a78bc" stroke-width="0.7"/>
<circle cx="639.45" cy="77.38" r="2.1" fill="none" stroke="#6a78bc" stroke-width="0.7"/>
<circle cx="641.28" cy="78" r="2.1" fill="none" stroke="#6a78bc" stroke-width="0.7"/>
<circle cx="643.48" cy="77.01" r="2.1" fill="none" stroke="#6a78bc" stroke-width="0.7"/>
<circle cx="644.45" cy="77.75" r="2.1" fill="none" stroke="#6a78bc" stroke-width="0.7"/>
<circle cx="646.17" cy="78.34" r="2.1" fill="none" stroke="#6a78bc" stroke-width="0.7"/>
<circle cx="647.57" cy="78.77" r="2.1" fill="none" stroke="#6a78bc" stroke-width="0.7"/>
<circle cx="649.53" cy="78.8" r="2.1" fill="none" stroke="#6a78bc" stroke-width="0.7"/>
<circle cx="650.42" cy="79.62" r="2.1" fill="none" stroke="#6a78bc" stroke-width="0.7"/>
<circle cx="651.69" cy="78.92" r="2.1" fill="none" stroke="#6a78bc" stroke-width="0.7"/>
<circle cx="654.07" cy="79.75" r="2.1" fill="none" stroke="#6a78bc" stroke-width="0.7"/>
<circle cx="655.06" cy="78.82" r="2.1" fill="none" stroke="#6a78bc" stroke-width="0.7"/>
<circle cx="656.4" cy="80.48" r="2.1" fill="none" stroke="#6a78bc" stroke-width="0.7"/>
<circle cx="657.42" cy="80.87" r="2.1" fill="none" stroke="#6a78bc" stroke-width="0.7"/>
<circle cx="659.66" cy="79.83" r="2.1" fill="none" stroke="#6a78bc" stroke-width="0.7"/>
<circle cx="661.15" cy="81.1" r="2.1" fill="none" stroke="#6a78bc" stroke-width="0.7"/>
<circle cx="662.72" cy="81.13" r="2.1" fill="none" stroke="#6a78bc" stroke-width="0.7"/>
<circle cx="664.25" cy="82.36" r="2.1" fill="none" stroke="#6a78bc" stroke-width="0.7"/>
<circle cx="664.93" cy="81.04" r="2.1" fill="none" stroke="#6a78bc" stroke-width="0.7"/>
<circle cx="667.21" cy="83.51" r="2.1" fill="none" stroke="#6a78bc" stroke-width="0.7"/>
<circle cx="668.2" cy="82.59" r="2.1" fill="none" stroke="#6a78bc" stroke-width="0.7"/>
<circle cx="670.11" cy="82.56" r="2.1" fill="none" stroke="#6a78bc" stroke-width="0.7"/>
<circle cx="671.34" cy="82.84" r="2.1" fill="none" stroke="#6a78bc" stroke-width="0.7"/>
<circle cx="672.84" cy="83.81" r="2.1" fill="none" stroke="#6a78bc" stroke-width="0.7"/>
<circle cx="674.26" cy="83.6" r="2.1" fill="none" stroke="#6a78bc" stroke-width="0.7"/>
<circle cx="676.33" cy="83.11" r="2.1" fill="none" stroke="#6a78bc" stroke-width="0.7"/>
<circle cx="677.58" cy="85.15" r="2.1" fill="none" stroke="#6a78bc" stroke-width="0.7"/>
<circle cx="678.77" cy="84.27" r="2.1" fill="none" stroke="#6a78bc" stroke-width="0.7"/>
<circle cx="570.79" cy="113.66" r="2.1" fill="none" stroke="#ec8a78" stroke-width="0.7"/>
<circle cx="572.68" cy="113.47" r="2.1" fill="none" stroke="#ec8a78" stroke-width="0.7"/>
<circle cx="574.04" cy="114.18" r="2.1" fill="none" stroke="#ec8a78" stroke-width="0.7"/>
<circle cx="574.97" cy="114.52" r="2.1" fill="none" stroke="#ec8a78" stroke-width="0.7"/>
<circle cx="576.44" cy="114.34" r="2.1" fill="none" stroke="#ec8a78" stroke-width="0.7"/>
<circle cx="577.98" cy="113.52" r="2.1" fill="none" stroke="#ec8a78" stroke-width="0.7"/>
<circle cx="579.91" cy="115.28" r="2.1" fill="none" stroke="#ec8a78" stroke-width="0.7"/>
<circle cx="581.05" cy="113.84" r="2.1" fill="none" stroke="#ec8a78" stroke-width="0.7"/>
<circle cx="583.15" cy="115.57" r="2.1" fill="none" stroke="#ec8a78" stroke-width="0.7"/>
<circle cx="584.59" cy="114.25" r="2.1" fill="none" stroke="#ec8a78" stroke-width="0.7"/>
<circle cx="586.57" cy="113.41" r="2.1" fill="none" stroke="#ec8a78" stroke-width="0.7"/>
<circle cx="587.93" cy="114.15" r="2.1" fill="none" stroke="#ec8a78" stroke-width="0.7"/>
<circle cx="588.57" cy="114.44" r="2.1" fill="none" stroke="#ec8a78" stroke-width="0.7"/>
<circle cx="590.27" cy="117.98" r="2.1" fill="none" stroke="#ec8a78" stroke-width="0.7"/>
<circle cx="591.62" cy="120.07" r="2.1" fill="none" stroke="#ec8a78" stroke-width="0.7"/>
<circle cx="593.67" cy="123.09" r="2.1" fill="none" stroke="#ec8a78" stroke-width="0.7"/>
<circle cx="595.06" cy="126.58" r="2.1" fill="none" stroke="#ec8a78" stroke-width="0.7"/>
<circle cx="595.97" cy="130.89" r="2.1" fill="none" stroke="#ec8a78" stroke-width="0.7"/>
<circle cx="598.22" cy="134.44" r="2.1" fill="none" stroke="#ec8a78" stroke-width="0.7"/>
<circle cx="599.28" cy="137.13" r="2.1" fill="none" stroke="#ec8a78" stroke-width="0.7"/>
<circle cx="600.94" cy="138.85" r="2.1" fill="none" stroke="#ec8a78" stroke-width="0.7"/>
<circle cx="602.85" cy="140.99" r="2.1" fill="none" stroke="#ec8a78" stroke-width="0.7"/>
<circle cx="603.69" cy="141.5" r="2.1" fill="none" stroke="#ec8a78" stroke-width="0.7"/>
<circle cx="605.53" cy="143.03" r="2.1" fill="none" stroke="#ec8a78" stroke-width="0.7"/>
<circle cx="607.28" cy="142.15" r="2.1" fill="none" stroke="#ec8a78" stroke-width="0.7"/>
<circle cx="609.08" cy="142.14" r="2.1" fill="none" stroke="#ec8a78" stroke-width="0.7"/>
<circle cx="609.9" cy="144.06" r="2.1" fill="none" stroke="#ec8a78" stroke-width="0.7"/>
<circle cx="611.08" cy="143.58" r="2.1" fill="none" stroke="#ec8a78" stroke-width="0.7"/>
<circle cx="612.45" cy="144.12" r="2.1" fill="none" stroke="#ec8a78" stroke-width="0.7"/>
<circle cx="614.82" cy="143.95" r="2.1" fill="none" stroke="#ec8a78" stroke-width="0.7"/>
<circle cx="616.45" cy="143.25" r="2.1" fill="none" stroke="#ec8a78" stroke-width="0.7"/>
<circle cx="617.73" cy="143.85" r="2.1" fill="none" stroke="#ec8a78" stroke-width="0.7"/>
<circle cx="619.1" cy="143.34" r="2.1" fill="none" stroke="#ec8a78" stroke-width="0.7"/>
<circle cx="620.91" cy="144.29" r="2.1" fill="none" stroke="#ec8a78" stroke-width="0.7"/>
<circle cx="621.97" cy="143.39" r="2.1" fill="none" stroke="#ec8a78" stroke-width="0.7"/>
<circle cx="622.97" cy="143.11" r="2.1" fill="none" stroke="#ec8a78" stroke-width="0.7"/>
<circle cx="625.18" cy="143.43" r="2.1" fill="none" stroke="#ec8a78" stroke-width="0.7"/>
<circle cx="626.89" cy="141.35" r="2.1" fill="none" stroke="#ec8a78" stroke-width="0.7"/>
<circle cx="627.86" cy="141.87" r="2.1" fill="none" stroke="#ec8a78" stroke-width="0.7"/>
<circle cx="628.93" cy="140.97" r="2.1" fill="none" stroke="#ec8a78" stroke-width="0.7"/>
<circle cx="630.6" cy="139.75" r="2.1" fill="none" stroke="#ec8a78" stroke-width="0.7"/>
<circle cx="631.97" cy="140.91" r="2.1" fill="none" stroke="#ec8a78" stroke-width="0.7"/>
<circle cx="633.56" cy="139.3" r="2.1" fill="none" stroke="#ec8a78" stroke-width="0.7"/>
<circle cx="635.37" cy="140.52" r="2.1" fill="none" stroke="#ec8a78" stroke-width="0.7"/>
<circle cx="636.5" cy="139.23" r="2.1" fill="none" stroke="#ec8a78" stroke-width="0.7"/>
<circle cx="638.56" cy="140" r="2.1" fill="none" stroke="#ec8a78" stroke-width="0.7"/>
<circle cx="640.38" cy="139.67" r="2.1" fill="none" stroke="#ec8a78" stroke-width="0.7"/>
<circle cx="641.23" cy="138.39" r="2.1" fill="none" stroke="#ec8a78" stroke-width="0.7"/>
<circle cx="642.83" cy="139.3" r="2.1" fill="none" stroke="#ec8a78" stroke-width="0.7"/>
<circle cx="645.05" cy="137.33" r="2.1" fill="none" stroke="#ec8a78" stroke-width="0.7"/>
<circle cx="645.61" cy="137.31" r="2.1" fill="none" stroke="#ec8a78" stroke-width="0.7"/>
<circle cx="647.18" cy="137.72" r="2.1" fill="none" stroke="#ec8a78" stroke-width="0.7"/>
<circle cx="649.11" cy="137.01" r="2.1" fill="none" stroke="#ec8a78" stroke-width="0.7"/>
<circle cx="649.9" cy="137.21" r="2.1" fill="none" stroke="#ec8a78" stroke-width="0.7"/>
<circle cx="651.84" cy="137.39" r="2.1" fill="none" stroke="#ec8a78" stroke-width="0.7"/>
<circle cx="654.04" cy="137.52" r="2.1" fill="none" stroke="#ec8a78" stroke-width="0.7"/>
<circle cx="655.02" cy="137.16" r="2.1" fill="none" stroke="#ec8a78" stroke-width="0.7"/>
<circle cx="656.71" cy="135.63" r="2.1" fill="none" stroke="#ec8a78" stroke-width="0.7"/>
<circle cx="658.48" cy="137.19" r="2.1" fill="none" stroke="#ec8a78" stroke-width="0.7"/>
<circle cx="659.95" cy="137.05" r="2.1" fill="none" stroke="#ec8a78" stroke-width="0.7"/>
<circle cx="660.87" cy="135.9" r="2.1" fill="none" stroke="#ec8a78" stroke-width="0.7"/>
<circle cx="662.02" cy="136.26" r="2.1" fill="none" stroke="#ec8a78" stroke-width="0.7"/>
<circle cx="663.47" cy="134.68" r="2.1" fill="none" stroke="#ec8a78" stroke-width="0.7"/>
<circle cx="665.15" cy="134.7" r="2.1" fill="none" stroke="#ec8a78" stroke-width="0.7"/>
<circle cx="666.81" cy="134.23" r="2.1" fill="none" stroke="#ec8a78" stroke-width="0.7"/>
<circle cx="667.9" cy="134.27" r="2.1" fill="none" stroke="#ec8a78" stroke-width="0.7"/>
<circle cx="669.52" cy="134.59" r="2.1" fill="none" stroke="#ec8a78" stroke-width="0.7"/>
<circle cx="670.93" cy="135.63" r="2.1" fill="none" stroke="#ec8a78" stroke-width="0.7"/>
<circle cx="673.14" cy="133.7" r="2.1" fill="none" stroke="#ec8a78" stroke-width="0.7"/>
<circle cx="674.2" cy="133.97" r="2.1" fill="none" stroke="#ec8a78" stroke-width="0.7"/>
<circle cx="675.84" cy="133.19" r="2.1" fill="none" stroke="#ec8a78" stroke-width="0.7"/>
<circle cx="677.92" cy="135.04" r="2.1" fill="none" stroke="#ec8a78" stroke-width="0.7"/>
<circle cx="678.96" cy="133.58" r="2.1" fill="none" stroke="#ec8a78" stroke-width="0.7"/>
<path d="M570,112.7 C572.17,112.7 580.62,112.78 583,112.7 C585.38,112.62 583.85,113.07 584.3,112.2 C584.75,111.33 585.13,110.37 585.7,107.5 C586.27,104.63 587.07,99.37 587.7,95 C588.33,90.63 588.9,86.13 589.5,81.3 C590.1,76.47 590.78,70.55 591.3,66 C591.82,61.45 592.17,57.33 592.6,54 C593.03,50.67 593.47,48.13 593.9,46 C594.33,43.87 594.77,42.37 595.2,41.2 C595.63,40.03 596.12,39.32 596.5,39 C596.88,38.68 596.95,38.67 597.5,39.3 C598.05,39.93 598.73,41.12 599.8,42.8 C600.87,44.48 602.62,47.28 603.9,49.4 C605.18,51.52 606.32,53.65 607.5,55.5 C608.68,57.35 609.82,58.98 611,60.5 C612.18,62.02 613.35,63.38 614.6,64.6 C615.85,65.82 617.22,66.85 618.5,67.8 C619.78,68.75 620.88,69.38 622.3,70.3 C623.72,71.22 625.13,72.25 627,73.3 C628.87,74.35 631.33,75.67 633.5,76.6 C635.67,77.53 637.73,78.2 640,78.9 C642.27,79.6 644.77,80.25 647.1,80.8 C649.43,81.35 651.75,81.75 654,82.2 C656.25,82.65 658.43,83.07 660.6,83.5 C662.77,83.93 664.75,84.35 667,84.8 C669.25,85.25 671.77,85.7 674.1,86.2 C676.43,86.7 679.85,87.53 681,87.8" fill="none" stroke="#0f1b5a" stroke-width="3" stroke-linejoin="round" stroke-linecap="round"/>
<path d="M570,114.5 C572.75,114.5 583.43,114.45 586.5,114.5 C589.57,114.55 587.87,114.55 588.4,114.8 C588.93,115.05 589.2,115.37 589.7,116 C590.2,116.63 590.85,117.6 591.4,118.6 C591.95,119.6 592.48,120.73 593,122 C593.52,123.27 594,124.78 594.5,126.2 C595,127.62 595.48,129.2 596,130.5 C596.52,131.8 596.93,132.8 597.6,134 C598.27,135.2 599.22,136.77 600,137.7 C600.78,138.63 601.3,138.95 602.3,139.6 C603.3,140.25 604.68,141.08 606,141.6 C607.32,142.12 608.87,142.47 610.2,142.7 C611.53,142.93 612.7,142.98 614,143 C615.3,143.02 616.67,142.93 618,142.8 C619.33,142.67 620.67,142.47 622,142.2 C623.33,141.93 624.08,141.7 626,141.2 C627.92,140.7 631.17,139.73 633.5,139.2 C635.83,138.67 637.73,138.37 640,138 C642.27,137.63 644.77,137.3 647.1,137 C649.43,136.7 651.75,136.47 654,136.2 C656.25,135.93 658.43,135.68 660.6,135.4 C662.77,135.12 664.75,134.8 667,134.5 C669.25,134.2 671.77,133.93 674.1,133.6 C676.43,133.27 679.85,132.68 681,132.5" fill="none" stroke="#cc2808" stroke-width="3" stroke-linejoin="round" stroke-linecap="round"/>
</g>
<g clip-path="url(#clipE)">
<path d="M51.8,195 C51.87,197.83 52.07,206.5 52.2,212 C52.33,217.5 52.42,222.5 52.6,228 C52.78,233.5 53.03,240.33 53.3,245 C53.57,249.67 53.87,252.83 54.2,256 C54.53,259.17 54.93,261.78 55.3,264 C55.67,266.22 55.78,267.1 56.4,269.3 C57.02,271.5 58,274.78 59,277.2 C60,279.62 61.12,281.78 62.4,283.8 C63.68,285.82 65.27,287.72 66.7,289.3 C68.13,290.88 69.62,292.12 71,293.3 C72.38,294.48 73.17,295.28 75,296.4 C76.83,297.52 79.5,298.95 82,300 C84.5,301.05 87.33,301.93 90,302.7 C92.67,303.47 95.5,304.07 98,304.6 C100.5,305.13 102.75,305.52 105,305.9 C107.25,306.28 110.42,306.73 111.5,306.9" fill="none" stroke="#b2b7cd" stroke-width="4.2" stroke-linejoin="round" stroke-linecap="round" stroke-linecap="butt"/>
<line x1="53.4" y1="202.5" x2="53.4" y2="243.4" stroke="#1d2a68" stroke-width="1.2"/>
<line x1="46.1" y1="202.5" x2="60.7" y2="202.5" stroke="#1d2a68" stroke-width="1.2"/>
<line x1="46.1" y1="243.4" x2="60.7" y2="243.4" stroke="#1d2a68" stroke-width="1.2"/>
<line x1="51.1" y1="228.8" x2="51.1" y2="261.6" stroke="#1d2a68" stroke-width="1.2"/>
<line x1="43.8" y1="228.8" x2="58.4" y2="228.8" stroke="#1d2a68" stroke-width="1.2"/>
<line x1="43.8" y1="261.6" x2="58.4" y2="261.6" stroke="#1d2a68" stroke-width="1.2"/>
<line x1="58" y1="285" x2="58" y2="304" stroke="#1d2a68" stroke-width="1.2"/>
<line x1="50.7" y1="285" x2="65.3" y2="285" stroke="#1d2a68" stroke-width="1.2"/>
<line x1="50.7" y1="304" x2="65.3" y2="304" stroke="#1d2a68" stroke-width="1.2"/>
<line x1="72.2" y1="277.5" x2="72.2" y2="294" stroke="#1d2a68" stroke-width="1.2"/>
<line x1="64.9" y1="277.5" x2="79.5" y2="277.5" stroke="#1d2a68" stroke-width="1.2"/>
<line x1="64.9" y1="294" x2="79.5" y2="294" stroke="#1d2a68" stroke-width="1.2"/>
<line x1="107.6" y1="299.8" x2="107.6" y2="311.2" stroke="#1d2a68" stroke-width="1.2"/>
<line x1="100.3" y1="299.8" x2="114.9" y2="299.8" stroke="#1d2a68" stroke-width="1.2"/>
<line x1="100.3" y1="311.2" x2="114.9" y2="311.2" stroke="#1d2a68" stroke-width="1.2"/>
<circle cx="53.4" cy="222.7" r="3.2" fill="#111b58"/>
<circle cx="51.1" cy="245.2" r="3.2" fill="#111b58"/>
<circle cx="58" cy="294.4" r="3.2" fill="#111b58"/>
<circle cx="72.2" cy="285.7" r="3.2" fill="#111b58"/>
<circle cx="107.6" cy="305.6" r="3.2" fill="#111b58"/>
</g>
<rect x="47.8" y="197.2" width="63" height="119.8" fill="none" stroke="#262626" stroke-width="1"/>
<line x1="44.8" y1="210" x2="47.8" y2="210" stroke="#262626" stroke-width="0.9"/>
<text transform="translate(42.1 214.3) scale(1 1.07)" font-size="11.8" text-anchor="end" font-weight="normal" fill="#1a1a1a" stroke="#1a1a1a" stroke-width="0.18">0.25</text>
<line x1="44.8" y1="239.8" x2="47.8" y2="239.8" stroke="#262626" stroke-width="0.9"/>
<text transform="translate(42.1 244.1) scale(1 1.07)" font-size="11.8" text-anchor="end" font-weight="normal" fill="#1a1a1a" stroke="#1a1a1a" stroke-width="0.18">0.20</text>
<line x1="44.8" y1="269.6" x2="47.8" y2="269.6" stroke="#262626" stroke-width="0.9"/>
<text transform="translate(42.1 273.9) scale(1 1.07)" font-size="11.8" text-anchor="end" font-weight="normal" fill="#1a1a1a" stroke="#1a1a1a" stroke-width="0.18">0.15</text>
<line x1="44.8" y1="299.4" x2="47.8" y2="299.4" stroke="#262626" stroke-width="0.9"/>
<text transform="translate(42.1 303.7) scale(1 1.07)" font-size="11.8" text-anchor="end" font-weight="normal" fill="#1a1a1a" stroke="#1a1a1a" stroke-width="0.18">0.10</text>
<line x1="48.4" y1="317" x2="48.4" y2="320" stroke="#262626" stroke-width="0.9"/>
<text transform="translate(48.4 330.9) scale(1 1.07)" font-size="11.8" text-anchor="middle" font-weight="normal" fill="#1a1a1a" stroke="#1a1a1a" stroke-width="0.18">0</text>
<line x1="77.95" y1="317" x2="77.95" y2="320" stroke="#262626" stroke-width="0.9"/>
<text transform="translate(77.95 330.9) scale(1 1.07)" font-size="11.8" text-anchor="middle" font-weight="normal" fill="#1a1a1a" stroke="#1a1a1a" stroke-width="0.18">50</text>
<line x1="107.5" y1="317" x2="107.5" y2="320" stroke="#262626" stroke-width="0.9"/>
<text transform="translate(107.5 330.9) scale(1 1.07)" font-size="11.8" text-anchor="middle" font-weight="normal" fill="#1a1a1a" stroke="#1a1a1a" stroke-width="0.18">100</text>
<text transform="translate(27.01 348.2) scale(1 1.07)" font-size="11.8" font-weight="normal" fill="#1a1a1a" stroke="#1a1a1a" stroke-width="0.18" textLength="47.14" lengthAdjust="spacingAndGlyphs">Fluence,</text>
<text transform="translate(76.92 348.2) scale(1 1.07)" font-size="11.8" font-weight="normal" fill="#1a1a1a" stroke="#1a1a1a" stroke-width="0.18" textLength="13.91" lengthAdjust="spacingAndGlyphs">µJ</text>
<text transform="translate(92.96 348.2) scale(1 1.07)" font-size="11.8" font-weight="normal" fill="#1a1a1a" stroke="#1a1a1a" stroke-width="0.18" textLength="16.98" lengthAdjust="spacingAndGlyphs">cm</text>
<text transform="translate(109.83 344.84) scale(1 1.07)" font-size="8.3" font-weight="normal" fill="#1a1a1a" stroke="#1a1a1a" stroke-width="0.18" textLength="6.94" lengthAdjust="spacingAndGlyphs">−</text>
<text transform="translate(116.75 343.9) scale(1 1.07)" font-size="8.3" font-weight="normal" fill="#1a1a1a" stroke="#1a1a1a" stroke-width="0.18" textLength="5.22" lengthAdjust="spacingAndGlyphs">2</text>
<g transform="translate(10.7 273) rotate(-90)"><text transform="translate(-0.2 0) scale(1 1.07)" font-size="12" font-weight="normal" fill="#1a1a1a" stroke="#1a1a1a" stroke-width="0.18" textLength="6.32" lengthAdjust="spacingAndGlyphs">τ</text><text transform="translate(7.03 3.4) scale(1 1.07)" font-size="8.3" font-weight="normal" fill="#1a1a1a" stroke="#1a1a1a" stroke-width="0.18" textLength="4.36" lengthAdjust="spacingAndGlyphs">1</text><text transform="translate(7.4 -5.2) scale(1 1.07)" font-size="8.3" font-weight="normal" fill="#1a1a1a" stroke="#1a1a1a" stroke-width="0.18" textLength="4.83" lengthAdjust="spacingAndGlyphs">A</text><text transform="translate(13.09 0) scale(1 1.07)" font-size="11.8" font-weight="normal" fill="#1a1a1a" stroke="#1a1a1a" stroke-width="0.18" textLength="4.1" lengthAdjust="spacingAndGlyphs">,</text><text transform="translate(19.16 0) scale(1 1.07)" font-size="11.8" font-weight="normal" fill="#1a1a1a" stroke="#1a1a1a" stroke-width="0.18" textLength="13.9" lengthAdjust="spacingAndGlyphs">ps</text></g>
<g clip-path="url(#clipF)">
<path d="M154.6,196 C154.68,199.17 154.9,209.33 155.1,215 C155.3,220.67 155.55,225.33 155.8,230 C156.05,234.67 156.32,239.17 156.6,243 C156.88,246.83 157.2,249.97 157.5,253 C157.8,256.03 158.03,258.37 158.4,261.2 C158.77,264.03 159.05,267.03 159.7,270 C160.35,272.97 161.23,276.2 162.3,279 C163.37,281.8 164.62,284.43 166.1,286.8 C167.58,289.17 169.28,291.28 171.2,293.2 C173.12,295.12 175.8,297.02 177.6,298.3 C179.4,299.58 179.48,299.68 182,300.9 C184.52,302.12 188.87,304.32 192.7,305.6 C196.53,306.88 201.37,307.83 205,308.6 C208.63,309.37 212.92,309.93 214.5,310.2" fill="none" stroke="#b2b8d2" stroke-width="4.2" stroke-linejoin="round" stroke-linecap="round" stroke-linecap="butt"/>
<line x1="154.8" y1="202.6" x2="154.8" y2="221.4" stroke="#3a4aa6" stroke-width="1.2"/>
<line x1="147.5" y1="202.6" x2="162.1" y2="202.6" stroke="#3a4aa6" stroke-width="1.2"/>
<line x1="147.5" y1="221.4" x2="162.1" y2="221.4" stroke="#3a4aa6" stroke-width="1.2"/>
<line x1="157.7" y1="243.5" x2="157.7" y2="258.8" stroke="#3a4aa6" stroke-width="1.2"/>
<line x1="150.4" y1="243.5" x2="165" y2="243.5" stroke="#3a4aa6" stroke-width="1.2"/>
<line x1="150.4" y1="258.8" x2="165" y2="258.8" stroke="#3a4aa6" stroke-width="1.2"/>
<line x1="162.2" y1="282.6" x2="162.2" y2="287" stroke="#3a4aa6" stroke-width="1.2"/>
<line x1="154.9" y1="282.6" x2="169.5" y2="282.6" stroke="#3a4aa6" stroke-width="1.2"/>
<line x1="154.9" y1="287" x2="169.5" y2="287" stroke="#3a4aa6" stroke-width="1.2"/>
<line x1="176.2" y1="285.8" x2="176.2" y2="290.3" stroke="#3a4aa6" stroke-width="1.2"/>
<line x1="168.9" y1="285.8" x2="183.5" y2="285.8" stroke="#3a4aa6" stroke-width="1.2"/>
<line x1="168.9" y1="290.3" x2="183.5" y2="290.3" stroke="#3a4aa6" stroke-width="1.2"/>
<line x1="211.2" y1="309.5" x2="211.2" y2="311.5" stroke="#3a4aa6" stroke-width="1.2"/>
<line x1="203.9" y1="309.5" x2="218.5" y2="309.5" stroke="#3a4aa6" stroke-width="1.2"/>
<line x1="203.9" y1="311.5" x2="218.5" y2="311.5" stroke="#3a4aa6" stroke-width="1.2"/>
<circle cx="154.8" cy="212.2" r="3.2" fill="#283a98"/>
<circle cx="157.7" cy="251.3" r="3.2" fill="#283a98"/>
<circle cx="162.2" cy="284.9" r="3.2" fill="#283a98"/>
<circle cx="176.2" cy="288" r="3.2" fill="#283a98"/>
<circle cx="211.2" cy="310.5" r="3.2" fill="#283a98"/>
</g>
<rect x="152.3" y="197.1" width="61.5" height="119.9" fill="none" stroke="#262626" stroke-width="1"/>
<line x1="149.3" y1="215.3" x2="152.3" y2="215.3" stroke="#262626" stroke-width="0.9"/>
<text transform="translate(146.6 219.6) scale(1 1.07)" font-size="11.8" text-anchor="end" font-weight="normal" fill="#1a1a1a" stroke="#1a1a1a" stroke-width="0.18">5</text>
<line x1="149.3" y1="242" x2="152.3" y2="242" stroke="#262626" stroke-width="0.9"/>
<text transform="translate(146.6 246.3) scale(1 1.07)" font-size="11.8" text-anchor="end" font-weight="normal" fill="#1a1a1a" stroke="#1a1a1a" stroke-width="0.18">4</text>
<line x1="149.3" y1="268.7" x2="152.3" y2="268.7" stroke="#262626" stroke-width="0.9"/>
<text transform="translate(146.6 273) scale(1 1.07)" font-size="11.8" text-anchor="end" font-weight="normal" fill="#1a1a1a" stroke="#1a1a1a" stroke-width="0.18">3</text>
<line x1="149.3" y1="295.4" x2="152.3" y2="295.4" stroke="#262626" stroke-width="0.9"/>
<text transform="translate(146.6 299.7) scale(1 1.07)" font-size="11.8" text-anchor="end" font-weight="normal" fill="#1a1a1a" stroke="#1a1a1a" stroke-width="0.18">2</text>
<line x1="152.8" y1="317" x2="152.8" y2="320" stroke="#262626" stroke-width="0.9"/>
<text transform="translate(152.8 330.9) scale(1 1.07)" font-size="11.8" text-anchor="middle" font-weight="normal" fill="#1a1a1a" stroke="#1a1a1a" stroke-width="0.18">0</text>
<line x1="182.2" y1="317" x2="182.2" y2="320" stroke="#262626" stroke-width="0.9"/>
<text transform="translate(182.2 330.9) scale(1 1.07)" font-size="11.8" text-anchor="middle" font-weight="normal" fill="#1a1a1a" stroke="#1a1a1a" stroke-width="0.18">50</text>
<line x1="211.6" y1="317" x2="211.6" y2="320" stroke="#262626" stroke-width="0.9"/>
<text transform="translate(211.6 330.9) scale(1 1.07)" font-size="11.8" text-anchor="middle" font-weight="normal" fill="#1a1a1a" stroke="#1a1a1a" stroke-width="0.18">100</text>
<text transform="translate(134.91 348.2) scale(1 1.07)" font-size="11.8" font-weight="normal" fill="#1a1a1a" stroke="#1a1a1a" stroke-width="0.18" textLength="47.14" lengthAdjust="spacingAndGlyphs">Fluence,</text>
<text transform="translate(184.82 348.2) scale(1 1.07)" font-size="11.8" font-weight="normal" fill="#1a1a1a" stroke="#1a1a1a" stroke-width="0.18" textLength="13.91" lengthAdjust="spacingAndGlyphs">µJ</text>
<text transform="translate(200.86 348.2) scale(1 1.07)" font-size="11.8" font-weight="normal" fill="#1a1a1a" stroke="#1a1a1a" stroke-width="0.18" textLength="16.98" lengthAdjust="spacingAndGlyphs">cm</text>
<text transform="translate(217.73 344.84) scale(1 1.07)" font-size="8.3" font-weight="normal" fill="#1a1a1a" stroke="#1a1a1a" stroke-width="0.18" textLength="6.94" lengthAdjust="spacingAndGlyphs">−</text>
<text transform="translate(224.65 343.9) scale(1 1.07)" font-size="8.3" font-weight="normal" fill="#1a1a1a" stroke="#1a1a1a" stroke-width="0.18" textLength="5.22" lengthAdjust="spacingAndGlyphs">2</text>
<g transform="translate(133.4 274.2) rotate(-90)"><text transform="translate(-0.2 0) scale(1 1.07)" font-size="12" font-weight="normal" fill="#1a1a1a" stroke="#1a1a1a" stroke-width="0.18" textLength="6.32" lengthAdjust="spacingAndGlyphs">τ</text><text transform="translate(7.24 3.4) scale(1 1.07)" font-size="8.3" font-weight="normal" fill="#1a1a1a" stroke="#1a1a1a" stroke-width="0.18" textLength="4.13" lengthAdjust="spacingAndGlyphs">2</text><text transform="translate(7.4 -5.2) scale(1 1.07)" font-size="8.3" font-weight="normal" fill="#1a1a1a" stroke="#1a1a1a" stroke-width="0.18" textLength="4.83" lengthAdjust="spacingAndGlyphs">A</text><text transform="translate(13.09 0) scale(1 1.07)" font-size="11.8" font-weight="normal" fill="#1a1a1a" stroke="#1a1a1a" stroke-width="0.18" textLength="4.1" lengthAdjust="spacingAndGlyphs">,</text><text transform="translate(19.16 0) scale(1 1.07)" font-size="11.8" font-weight="normal" fill="#1a1a1a" stroke="#1a1a1a" stroke-width="0.18" textLength="13.9" lengthAdjust="spacingAndGlyphs">ps</text></g>
<g clip-path="url(#clipG)">
<path d="M276.5,240.2 C276.7,240.05 277.12,239.73 277.7,239.3 C278.28,238.87 279,238.17 280,237.6 C281,237.03 282.2,236.57 283.7,235.9 C285.2,235.23 287.02,234.32 289,233.6 C290.98,232.88 293.27,232.3 295.6,231.6 C297.93,230.9 300.15,230.12 303,229.4 C305.85,228.68 310.03,227.9 312.7,227.3 C315.37,226.7 316.73,226.28 319,225.8 C321.27,225.32 324.3,224.77 326.3,224.4 C328.3,224.03 329.3,223.87 331,223.6 C332.7,223.33 335.58,222.93 336.5,222.8" fill="none" stroke="#deaca2" stroke-width="4.2" stroke-linejoin="round" stroke-linecap="round" stroke-linecap="butt"/>
<line x1="275.6" y1="211.8" x2="275.6" y2="311.8" stroke="#a82c14" stroke-width="1.2"/>
<line x1="268.3" y1="211.8" x2="282.9" y2="211.8" stroke="#a82c14" stroke-width="1.2"/>
<line x1="268.3" y1="311.8" x2="282.9" y2="311.8" stroke="#a82c14" stroke-width="1.2"/>
<line x1="278.2" y1="228.8" x2="278.2" y2="291.3" stroke="#a82c14" stroke-width="1.2"/>
<line x1="270.9" y1="228.8" x2="285.5" y2="228.8" stroke="#a82c14" stroke-width="1.2"/>
<line x1="270.9" y1="291.3" x2="285.5" y2="291.3" stroke="#a82c14" stroke-width="1.2"/>
<line x1="282.5" y1="217.9" x2="282.5" y2="255.5" stroke="#a82c14" stroke-width="1.2"/>
<line x1="275.2" y1="217.9" x2="289.8" y2="217.9" stroke="#a82c14" stroke-width="1.2"/>
<line x1="275.2" y1="255.5" x2="289.8" y2="255.5" stroke="#a82c14" stroke-width="1.2"/>
<line x1="296.8" y1="224.4" x2="296.8" y2="249.5" stroke="#a82c14" stroke-width="1.2"/>
<line x1="289.5" y1="224.4" x2="304.1" y2="224.4" stroke="#a82c14" stroke-width="1.2"/>
<line x1="289.5" y1="249.5" x2="304.1" y2="249.5" stroke="#a82c14" stroke-width="1.2"/>
<line x1="332.8" y1="202.6" x2="332.8" y2="233.8" stroke="#a82c14" stroke-width="1.2"/>
<line x1="325.5" y1="202.6" x2="340.1" y2="202.6" stroke="#a82c14" stroke-width="1.2"/>
<line x1="325.5" y1="233.8" x2="340.1" y2="233.8" stroke="#a82c14" stroke-width="1.2"/>
<circle cx="275.6" cy="262" r="3.2" fill="#9c1a04"/>
<circle cx="278.2" cy="260.3" r="3.2" fill="#9c1a04"/>
<circle cx="282.5" cy="236.7" r="3.2" fill="#9c1a04"/>
<circle cx="296.8" cy="236.7" r="3.2" fill="#9c1a04"/>
<circle cx="332.8" cy="217.9" r="3.2" fill="#9c1a04"/>
</g>
<rect x="272.7" y="197.8" width="62.9" height="119.2" fill="none" stroke="#262626" stroke-width="1"/>
<line x1="269.7" y1="216.5" x2="272.7" y2="216.5" stroke="#262626" stroke-width="0.9"/>
<text transform="translate(267 220.8) scale(1 1.07)" font-size="11.8" text-anchor="end" font-weight="normal" fill="#1a1a1a" stroke="#1a1a1a" stroke-width="0.18">0.10</text>
<line x1="269.7" y1="247.7" x2="272.7" y2="247.7" stroke="#262626" stroke-width="0.9"/>
<text transform="translate(267 252) scale(1 1.07)" font-size="11.8" text-anchor="end" font-weight="normal" fill="#1a1a1a" stroke="#1a1a1a" stroke-width="0.18">0.08</text>
<line x1="269.7" y1="278.9" x2="272.7" y2="278.9" stroke="#262626" stroke-width="0.9"/>
<text transform="translate(267 283.2) scale(1 1.07)" font-size="11.8" text-anchor="end" font-weight="normal" fill="#1a1a1a" stroke="#1a1a1a" stroke-width="0.18">0.06</text>
<line x1="269.7" y1="310.1" x2="272.7" y2="310.1" stroke="#262626" stroke-width="0.9"/>
<text transform="translate(267 314.4) scale(1 1.07)" font-size="11.8" text-anchor="end" font-weight="normal" fill="#1a1a1a" stroke="#1a1a1a" stroke-width="0.18">0.04</text>
<line x1="273.2" y1="317" x2="273.2" y2="320" stroke="#262626" stroke-width="0.9"/>
<text transform="translate(273.2 330.9) scale(1 1.07)" font-size="11.8" text-anchor="middle" font-weight="normal" fill="#1a1a1a" stroke="#1a1a1a" stroke-width="0.18">0</text>
<line x1="302.85" y1="317" x2="302.85" y2="320" stroke="#262626" stroke-width="0.9"/>
<text transform="translate(302.85 330.9) scale(1 1.07)" font-size="11.8" text-anchor="middle" font-weight="normal" fill="#1a1a1a" stroke="#1a1a1a" stroke-width="0.18">50</text>
<line x1="332.5" y1="317" x2="332.5" y2="320" stroke="#262626" stroke-width="0.9"/>
<text transform="translate(332.5 330.9) scale(1 1.07)" font-size="11.8" text-anchor="middle" font-weight="normal" fill="#1a1a1a" stroke="#1a1a1a" stroke-width="0.18">100</text>
<text transform="translate(251.31 348.2) scale(1 1.07)" font-size="11.8" font-weight="normal" fill="#1a1a1a" stroke="#1a1a1a" stroke-width="0.18" textLength="47.14" lengthAdjust="spacingAndGlyphs">Fluence,</text>
<text transform="translate(301.22 348.2) scale(1 1.07)" font-size="11.8" font-weight="normal" fill="#1a1a1a" stroke="#1a1a1a" stroke-width="0.18" textLength="13.91" lengthAdjust="spacingAndGlyphs">µJ</text>
<text transform="translate(317.26 348.2) scale(1 1.07)" font-size="11.8" font-weight="normal" fill="#1a1a1a" stroke="#1a1a1a" stroke-width="0.18" textLength="16.98" lengthAdjust="spacingAndGlyphs">cm</text>
<text transform="translate(334.13 344.84) scale(1 1.07)" font-size="8.3" font-weight="normal" fill="#1a1a1a" stroke="#1a1a1a" stroke-width="0.18" textLength="6.94" lengthAdjust="spacingAndGlyphs">−</text>
<text transform="translate(341.05 343.9) scale(1 1.07)" font-size="8.3" font-weight="normal" fill="#1a1a1a" stroke="#1a1a1a" stroke-width="0.18" textLength="5.22" lengthAdjust="spacingAndGlyphs">2</text>
<g transform="translate(237 272.6) rotate(-90)"><text transform="translate(-0.2 0) scale(1 1.07)" font-size="12" font-weight="normal" fill="#1a1a1a" stroke="#1a1a1a" stroke-width="0.18" textLength="6.32" lengthAdjust="spacingAndGlyphs">τ</text><text transform="translate(7.03 3.4) scale(1 1.07)" font-size="8.3" font-weight="normal" fill="#1a1a1a" stroke="#1a1a1a" stroke-width="0.18" textLength="4.36" lengthAdjust="spacingAndGlyphs">1</text><text transform="translate(6.7 -5.2) scale(1 1.07)" font-size="8.3" font-weight="normal" fill="#1a1a1a" stroke="#1a1a1a" stroke-width="0.18" textLength="5.97" lengthAdjust="spacingAndGlyphs">B</text><text transform="translate(13.09 0) scale(1 1.07)" font-size="11.8" font-weight="normal" fill="#1a1a1a" stroke="#1a1a1a" stroke-width="0.18" textLength="4.1" lengthAdjust="spacingAndGlyphs">,</text><text transform="translate(19.16 0) scale(1 1.07)" font-size="11.8" font-weight="normal" fill="#1a1a1a" stroke="#1a1a1a" stroke-width="0.18" textLength="13.9" lengthAdjust="spacingAndGlyphs">ps</text></g>
<g clip-path="url(#clipH)">
<path d="M380.6,181.08 C380.67,183.03 380.85,188.82 381,192.79 C381.15,196.77 381.33,201.23 381.5,204.91 C381.67,208.6 381.83,211.85 382,214.92 C382.17,217.99 382.33,220.73 382.5,223.32 C382.67,225.91 382.75,227.36 383,230.47 C383.25,233.58 383.67,238.59 384,242 C384.33,245.4 384.58,247.72 385,250.88 C385.42,254.04 386,258.03 386.5,260.96 C387,263.89 387.42,265.96 388,268.45 C388.58,270.95 389.33,273.74 390,275.9 C390.67,278.07 391.17,279.51 392,281.46 C392.83,283.4 393.83,285.61 395,287.56 C396.17,289.52 397.5,291.47 399,293.2 C400.5,294.93 402.17,296.52 404,297.96 C405.83,299.39 407.83,300.66 410,301.81 C412.17,302.96 414.5,303.95 417,304.86 C419.5,305.78 422.33,306.59 425,307.28 C427.67,307.97 429.83,308.44 433,309.02 C436.17,309.59 442.17,310.45 444,310.73" fill="none" stroke="#f2b6aa" stroke-width="4.2" stroke-linejoin="round" stroke-linecap="round" stroke-linecap="butt"/>
<line x1="382" y1="202.4" x2="382" y2="225.4" stroke="#e2604a" stroke-width="1.2"/>
<line x1="374.7" y1="202.4" x2="389.3" y2="202.4" stroke="#e2604a" stroke-width="1.2"/>
<line x1="374.7" y1="225.4" x2="389.3" y2="225.4" stroke="#e2604a" stroke-width="1.2"/>
<line x1="384.2" y1="209.5" x2="384.2" y2="223.2" stroke="#e2604a" stroke-width="1.2"/>
<line x1="376.9" y1="209.5" x2="391.5" y2="209.5" stroke="#e2604a" stroke-width="1.2"/>
<line x1="376.9" y1="223.2" x2="391.5" y2="223.2" stroke="#e2604a" stroke-width="1.2"/>
<line x1="388.7" y1="270.6" x2="388.7" y2="275.3" stroke="#e2604a" stroke-width="1.2"/>
<line x1="381.4" y1="270.6" x2="396" y2="270.6" stroke="#e2604a" stroke-width="1.2"/>
<line x1="381.4" y1="275.3" x2="396" y2="275.3" stroke="#e2604a" stroke-width="1.2"/>
<line x1="402.9" y1="293.6" x2="402.9" y2="297.8" stroke="#e2604a" stroke-width="1.2"/>
<line x1="395.6" y1="293.6" x2="410.2" y2="293.6" stroke="#e2604a" stroke-width="1.2"/>
<line x1="395.6" y1="297.8" x2="410.2" y2="297.8" stroke="#e2604a" stroke-width="1.2"/>
<line x1="438.2" y1="309.3" x2="438.2" y2="311.7" stroke="#e2604a" stroke-width="1.2"/>
<line x1="430.9" y1="309.3" x2="445.5" y2="309.3" stroke="#e2604a" stroke-width="1.2"/>
<line x1="430.9" y1="311.7" x2="445.5" y2="311.7" stroke="#e2604a" stroke-width="1.2"/>
<circle cx="382" cy="214.3" r="3.2" fill="#d22a0e"/>
<circle cx="384.2" cy="216.4" r="3.2" fill="#d22a0e"/>
<circle cx="388.7" cy="272.9" r="3.2" fill="#d22a0e"/>
<circle cx="402.9" cy="295.7" r="3.2" fill="#d22a0e"/>
<circle cx="438.2" cy="310.5" r="3.2" fill="#d22a0e"/>
</g>
<rect x="379.5" y="197.1" width="63.3" height="119.9" fill="none" stroke="#262626" stroke-width="1"/>
<line x1="376.5" y1="245" x2="379.5" y2="245" stroke="#262626" stroke-width="0.9"/>
<text transform="translate(373.8 249.3) scale(1 1.07)" font-size="11.8" text-anchor="end" font-weight="normal" fill="#1a1a1a" stroke="#1a1a1a" stroke-width="0.18">2</text>
<line x1="376.5" y1="297.4" x2="379.5" y2="297.4" stroke="#262626" stroke-width="0.9"/>
<text transform="translate(373.8 301.7) scale(1 1.07)" font-size="11.8" text-anchor="end" font-weight="normal" fill="#1a1a1a" stroke="#1a1a1a" stroke-width="0.18">1</text>
<line x1="379.4" y1="317" x2="379.4" y2="320" stroke="#262626" stroke-width="0.9"/>
<text transform="translate(379.4 330.9) scale(1 1.07)" font-size="11.8" text-anchor="middle" font-weight="normal" fill="#1a1a1a" stroke="#1a1a1a" stroke-width="0.18">0</text>
<line x1="408.8" y1="317" x2="408.8" y2="320" stroke="#262626" stroke-width="0.9"/>
<text transform="translate(408.8 330.9) scale(1 1.07)" font-size="11.8" text-anchor="middle" font-weight="normal" fill="#1a1a1a" stroke="#1a1a1a" stroke-width="0.18">50</text>
<line x1="438.2" y1="317" x2="438.2" y2="320" stroke="#262626" stroke-width="0.9"/>
<text transform="translate(438.2 330.9) scale(1 1.07)" font-size="11.8" text-anchor="middle" font-weight="normal" fill="#1a1a1a" stroke="#1a1a1a" stroke-width="0.18">100</text>
<text transform="translate(359.91 348.2) scale(1 1.07)" font-size="11.8" font-weight="normal" fill="#1a1a1a" stroke="#1a1a1a" stroke-width="0.18" textLength="47.14" lengthAdjust="spacingAndGlyphs">Fluence,</text>
<text transform="translate(409.82 348.2) scale(1 1.07)" font-size="11.8" font-weight="normal" fill="#1a1a1a" stroke="#1a1a1a" stroke-width="0.18" textLength="13.91" lengthAdjust="spacingAndGlyphs">µJ</text>
<text transform="translate(425.86 348.2) scale(1 1.07)" font-size="11.8" font-weight="normal" fill="#1a1a1a" stroke="#1a1a1a" stroke-width="0.18" textLength="16.98" lengthAdjust="spacingAndGlyphs">cm</text>
<text transform="translate(442.73 344.84) scale(1 1.07)" font-size="8.3" font-weight="normal" fill="#1a1a1a" stroke="#1a1a1a" stroke-width="0.18" textLength="6.94" lengthAdjust="spacingAndGlyphs">−</text>
<text transform="translate(449.65 343.9) scale(1 1.07)" font-size="8.3" font-weight="normal" fill="#1a1a1a" stroke="#1a1a1a" stroke-width="0.18" textLength="5.22" lengthAdjust="spacingAndGlyphs">2</text>
<g transform="translate(359 273.4) rotate(-90)"><text transform="translate(-0.2 0) scale(1 1.07)" font-size="12" font-weight="normal" fill="#1a1a1a" stroke="#1a1a1a" stroke-width="0.18" textLength="6.32" lengthAdjust="spacingAndGlyphs">τ</text><text transform="translate(7.24 3.4) scale(1 1.07)" font-size="8.3" font-weight="normal" fill="#1a1a1a" stroke="#1a1a1a" stroke-width="0.18" textLength="4.13" lengthAdjust="spacingAndGlyphs">2</text><text transform="translate(6.7 -5.2) scale(1 1.07)" font-size="8.3" font-weight="normal" fill="#1a1a1a" stroke="#1a1a1a" stroke-width="0.18" textLength="5.97" lengthAdjust="spacingAndGlyphs">B</text><text transform="translate(13.09 0) scale(1 1.07)" font-size="11.8" font-weight="normal" fill="#1a1a1a" stroke="#1a1a1a" stroke-width="0.18" textLength="4.1" lengthAdjust="spacingAndGlyphs">,</text><text transform="translate(19.16 0) scale(1 1.07)" font-size="11.8" font-weight="normal" fill="#1a1a1a" stroke="#1a1a1a" stroke-width="0.18" textLength="13.9" lengthAdjust="spacingAndGlyphs">ps</text></g>
<g clip-path="url(#clipI)">
<path d="M494.2,317.5 C494.42,316.75 495.02,314.67 495.5,313 C495.98,311.33 496.23,310.17 497.1,307.5 C497.97,304.83 499.52,300.58 500.7,297 C501.88,293.42 502.72,290.25 504.2,286 C505.68,281.75 507.23,276.58 509.6,271.5 C511.97,266.42 515.15,261.13 518.4,255.5 C521.65,249.87 524.93,243.93 529.1,237.7 C533.27,231.47 539.25,223.63 543.4,218.1 C547.55,212.57 551.4,207.68 554,204.5 C556.6,201.32 558.17,199.92 559,199" fill="none" stroke="#d2cece" stroke-width="4.2" stroke-linejoin="round" stroke-linecap="round" stroke-linecap="butt"/>
<line x1="497.1" y1="310.5" x2="497.1" y2="311.5" stroke="#8a7c80" stroke-width="1.2"/>
<line x1="489.8" y1="310.5" x2="504.4" y2="310.5" stroke="#8a7c80" stroke-width="1.2"/>
<line x1="489.8" y1="311.5" x2="504.4" y2="311.5" stroke="#8a7c80" stroke-width="1.2"/>
<line x1="499.4" y1="299.1" x2="499.4" y2="300.1" stroke="#8a7c80" stroke-width="1.2"/>
<line x1="492.1" y1="299.1" x2="506.7" y2="299.1" stroke="#8a7c80" stroke-width="1.2"/>
<line x1="492.1" y1="300.1" x2="506.7" y2="300.1" stroke="#8a7c80" stroke-width="1.2"/>
<line x1="504" y1="282.2" x2="504" y2="285" stroke="#8a7c80" stroke-width="1.2"/>
<line x1="496.7" y1="282.2" x2="511.3" y2="282.2" stroke="#8a7c80" stroke-width="1.2"/>
<line x1="496.7" y1="285" x2="511.3" y2="285" stroke="#8a7c80" stroke-width="1.2"/>
<line x1="518.4" y1="255.4" x2="518.4" y2="258" stroke="#8a7c80" stroke-width="1.2"/>
<line x1="511.1" y1="255.4" x2="525.7" y2="255.4" stroke="#8a7c80" stroke-width="1.2"/>
<line x1="511.1" y1="258" x2="525.7" y2="258" stroke="#8a7c80" stroke-width="1.2"/>
<line x1="554" y1="202" x2="554" y2="204.6" stroke="#8a7c80" stroke-width="1.2"/>
<line x1="546.7" y1="202" x2="561.3" y2="202" stroke="#8a7c80" stroke-width="1.2"/>
<line x1="546.7" y1="204.6" x2="561.3" y2="204.6" stroke="#8a7c80" stroke-width="1.2"/>
<circle cx="497.1" cy="311" r="3.2" fill="#6a5a60"/>
<circle cx="499.4" cy="299.6" r="3.2" fill="#6a5a60"/>
<circle cx="504" cy="283.6" r="3.2" fill="#6a5a60"/>
<circle cx="518.4" cy="256.7" r="3.2" fill="#6a5a60"/>
<circle cx="554" cy="203.3" r="3.2" fill="#6a5a60"/>
</g>
<rect x="494" y="197.1" width="63.5" height="119.9" fill="none" stroke="#262626" stroke-width="1"/>
<line x1="491" y1="208.2" x2="494" y2="208.2" stroke="#262626" stroke-width="0.9"/>
<text transform="translate(488.3 212.5) scale(1 1.07)" font-size="11.8" text-anchor="end" font-weight="normal" fill="#1a1a1a" stroke="#1a1a1a" stroke-width="0.18">6.0</text>
<line x1="491" y1="248.2" x2="494" y2="248.2" stroke="#262626" stroke-width="0.9"/>
<text transform="translate(488.3 252.5) scale(1 1.07)" font-size="11.8" text-anchor="end" font-weight="normal" fill="#1a1a1a" stroke="#1a1a1a" stroke-width="0.18">4.0</text>
<line x1="491" y1="288.2" x2="494" y2="288.2" stroke="#262626" stroke-width="0.9"/>
<text transform="translate(488.3 292.5) scale(1 1.07)" font-size="11.8" text-anchor="end" font-weight="normal" fill="#1a1a1a" stroke="#1a1a1a" stroke-width="0.18">2.0</text>
<line x1="494.5" y1="317" x2="494.5" y2="320" stroke="#262626" stroke-width="0.9"/>
<text transform="translate(494.5 330.9) scale(1 1.07)" font-size="11.8" text-anchor="middle" font-weight="normal" fill="#1a1a1a" stroke="#1a1a1a" stroke-width="0.18">0</text>
<line x1="524.15" y1="317" x2="524.15" y2="320" stroke="#262626" stroke-width="0.9"/>
<text transform="translate(524.15 330.9) scale(1 1.07)" font-size="11.8" text-anchor="middle" font-weight="normal" fill="#1a1a1a" stroke="#1a1a1a" stroke-width="0.18">50</text>
<line x1="553.8" y1="317" x2="553.8" y2="320" stroke="#262626" stroke-width="0.9"/>
<text transform="translate(553.8 330.9) scale(1 1.07)" font-size="11.8" text-anchor="middle" font-weight="normal" fill="#1a1a1a" stroke="#1a1a1a" stroke-width="0.18">100</text>
<text transform="translate(475.51 348.2) scale(1 1.07)" font-size="11.8" font-weight="normal" fill="#1a1a1a" stroke="#1a1a1a" stroke-width="0.18" textLength="47.14" lengthAdjust="spacingAndGlyphs">Fluence,</text>
<text transform="translate(525.42 348.2) scale(1 1.07)" font-size="11.8" font-weight="normal" fill="#1a1a1a" stroke="#1a1a1a" stroke-width="0.18" textLength="13.91" lengthAdjust="spacingAndGlyphs">µJ</text>
<text transform="translate(541.46 348.2) scale(1 1.07)" font-size="11.8" font-weight="normal" fill="#1a1a1a" stroke="#1a1a1a" stroke-width="0.18" textLength="16.98" lengthAdjust="spacingAndGlyphs">cm</text>
<text transform="translate(558.33 344.84) scale(1 1.07)" font-size="8.3" font-weight="normal" fill="#1a1a1a" stroke="#1a1a1a" stroke-width="0.18" textLength="6.94" lengthAdjust="spacingAndGlyphs">−</text>
<text transform="translate(565.25 343.9) scale(1 1.07)" font-size="8.3" font-weight="normal" fill="#1a1a1a" stroke="#1a1a1a" stroke-width="0.18" textLength="5.22" lengthAdjust="spacingAndGlyphs">2</text>
<g transform="translate(466.4 308) rotate(-90)"><text transform="translate(-0.9 0) scale(1 1.07)" font-size="11.8" font-weight="normal" fill="#1a1a1a" stroke="#1a1a1a" stroke-width="0.18" textLength="48.53" lengthAdjust="spacingAndGlyphs">max(CD</text><text transform="translate(48.5 -3.8) scale(1 1.07)" font-size="8.3" font-weight="normal" fill="#1a1a1a" stroke="#1a1a1a" stroke-width="0.18" textLength="5.13" lengthAdjust="spacingAndGlyphs">A</text><text transform="translate(54.92 0) scale(1 1.07)" font-size="11.8" font-weight="normal" fill="#1a1a1a" stroke="#1a1a1a" stroke-width="0.18" textLength="3.3" lengthAdjust="spacingAndGlyphs">)</text><text transform="translate(62 0.37) scale(1 1.07)" font-size="12.5" font-weight="normal" fill="#1a1a1a" stroke="#1a1a1a" stroke-width="0.15" textLength="8.6" lengthAdjust="spacingAndGlyphs">×</text><text transform="translate(72.08 0) scale(1 1.07)" font-size="11.8" font-weight="normal" fill="#1a1a1a" stroke="#1a1a1a" stroke-width="0.18" textLength="16.31" lengthAdjust="spacingAndGlyphs">10</text><text transform="translate(88.61 -4.06) scale(1 1.07)" font-size="8.3" font-weight="normal" fill="#1a1a1a" stroke="#1a1a1a" stroke-width="0.18" textLength="7.18" lengthAdjust="spacingAndGlyphs">−</text><text transform="translate(96.22 -4.4) scale(1 1.07)" font-size="8.3" font-weight="normal" fill="#1a1a1a" stroke="#1a1a1a" stroke-width="0.18" textLength="5.84" lengthAdjust="spacingAndGlyphs">3</text></g>
<g clip-path="url(#clipJ)">
<path d="M609.8,316 C609.95,315.4 610.17,314.48 610.7,312.4 C611.23,310.32 612.12,306.47 613,303.5 C613.88,300.53 614.62,298.93 616,294.6 C617.38,290.27 619.23,283.6 621.3,277.5 C623.37,271.4 626.02,263.75 628.4,258 C630.78,252.25 632.63,248.17 635.6,243 C638.57,237.83 642.65,231.57 646.2,227 C649.75,222.43 653.05,219.15 656.9,215.6 C660.75,212.05 666.45,207.88 669.3,205.7 C672.15,203.52 673.22,203.03 674,202.5" fill="none" stroke="#cacad8" stroke-width="4.2" stroke-linejoin="round" stroke-linecap="round" stroke-linecap="butt"/>
<line x1="612.4" y1="307.8" x2="612.4" y2="311.2" stroke="#7a7c9a" stroke-width="1.2"/>
<line x1="605.1" y1="307.8" x2="619.7" y2="307.8" stroke="#7a7c9a" stroke-width="1.2"/>
<line x1="605.1" y1="311.2" x2="619.7" y2="311.2" stroke="#7a7c9a" stroke-width="1.2"/>
<line x1="614.9" y1="295.7" x2="614.9" y2="301.8" stroke="#7a7c9a" stroke-width="1.2"/>
<line x1="607.6" y1="295.7" x2="622.2" y2="295.7" stroke="#7a7c9a" stroke-width="1.2"/>
<line x1="607.6" y1="301.8" x2="622.2" y2="301.8" stroke="#7a7c9a" stroke-width="1.2"/>
<line x1="619.6" y1="274" x2="619.6" y2="279.7" stroke="#7a7c9a" stroke-width="1.2"/>
<line x1="612.3" y1="274" x2="626.9" y2="274" stroke="#7a7c9a" stroke-width="1.2"/>
<line x1="612.3" y1="279.7" x2="626.9" y2="279.7" stroke="#7a7c9a" stroke-width="1.2"/>
<line x1="633.8" y1="238.4" x2="633.8" y2="246.6" stroke="#7a7c9a" stroke-width="1.2"/>
<line x1="626.5" y1="238.4" x2="641.1" y2="238.4" stroke="#7a7c9a" stroke-width="1.2"/>
<line x1="626.5" y1="246.6" x2="641.1" y2="246.6" stroke="#7a7c9a" stroke-width="1.2"/>
<line x1="669.5" y1="202.7" x2="669.5" y2="212.4" stroke="#7a7c9a" stroke-width="1.2"/>
<line x1="662.2" y1="202.7" x2="676.8" y2="202.7" stroke="#7a7c9a" stroke-width="1.2"/>
<line x1="662.2" y1="212.4" x2="676.8" y2="212.4" stroke="#7a7c9a" stroke-width="1.2"/>
<circle cx="612.4" cy="309.5" r="3.2" fill="#55587a"/>
<circle cx="614.9" cy="298.8" r="3.2" fill="#55587a"/>
<circle cx="619.6" cy="276.8" r="3.2" fill="#55587a"/>
<circle cx="633.8" cy="242.4" r="3.2" fill="#55587a"/>
<circle cx="669.5" cy="207.5" r="3.2" fill="#55587a"/>
</g>
<rect x="609.5" y="197.4" width="62.9" height="119.6" fill="none" stroke="#262626" stroke-width="1"/>
<line x1="606.5" y1="225.11" x2="609.5" y2="225.11" stroke="#262626" stroke-width="0.9"/>
<text transform="translate(603.8 229.41) scale(1 1.07)" font-size="11.8" text-anchor="end" font-weight="normal" fill="#1a1a1a" stroke="#1a1a1a" stroke-width="0.18">0.8</text>
<line x1="606.5" y1="260" x2="609.5" y2="260" stroke="#262626" stroke-width="0.9"/>
<text transform="translate(603.8 264.3) scale(1 1.07)" font-size="11.8" text-anchor="end" font-weight="normal" fill="#1a1a1a" stroke="#1a1a1a" stroke-width="0.18">0.5</text>
<line x1="606.5" y1="294.89" x2="609.5" y2="294.89" stroke="#262626" stroke-width="0.9"/>
<text transform="translate(603.8 299.19) scale(1 1.07)" font-size="11.8" text-anchor="end" font-weight="normal" fill="#1a1a1a" stroke="#1a1a1a" stroke-width="0.18">0.2</text>
<line x1="610.5" y1="317" x2="610.5" y2="320" stroke="#262626" stroke-width="0.9"/>
<text transform="translate(610.5 330.9) scale(1 1.07)" font-size="11.8" text-anchor="middle" font-weight="normal" fill="#1a1a1a" stroke="#1a1a1a" stroke-width="0.18">0</text>
<line x1="640.25" y1="317" x2="640.25" y2="320" stroke="#262626" stroke-width="0.9"/>
<text transform="translate(640.25 330.9) scale(1 1.07)" font-size="11.8" text-anchor="middle" font-weight="normal" fill="#1a1a1a" stroke="#1a1a1a" stroke-width="0.18">50</text>
<line x1="670" y1="317" x2="670" y2="320" stroke="#262626" stroke-width="0.9"/>
<text transform="translate(670 330.9) scale(1 1.07)" font-size="11.8" text-anchor="middle" font-weight="normal" fill="#1a1a1a" stroke="#1a1a1a" stroke-width="0.18">100</text>
<text transform="translate(591.21 348.2) scale(1 1.07)" font-size="11.8" font-weight="normal" fill="#1a1a1a" stroke="#1a1a1a" stroke-width="0.18" textLength="47.14" lengthAdjust="spacingAndGlyphs">Fluence,</text>
<text transform="translate(641.12 348.2) scale(1 1.07)" font-size="11.8" font-weight="normal" fill="#1a1a1a" stroke="#1a1a1a" stroke-width="0.18" textLength="13.91" lengthAdjust="spacingAndGlyphs">µJ</text>
<text transform="translate(657.16 348.2) scale(1 1.07)" font-size="11.8" font-weight="normal" fill="#1a1a1a" stroke="#1a1a1a" stroke-width="0.18" textLength="16.98" lengthAdjust="spacingAndGlyphs">cm</text>
<text transform="translate(674.03 344.84) scale(1 1.07)" font-size="8.3" font-weight="normal" fill="#1a1a1a" stroke="#1a1a1a" stroke-width="0.18" textLength="6.94" lengthAdjust="spacingAndGlyphs">−</text>
<text transform="translate(680.95 343.9) scale(1 1.07)" font-size="8.3" font-weight="normal" fill="#1a1a1a" stroke="#1a1a1a" stroke-width="0.18" textLength="5.22" lengthAdjust="spacingAndGlyphs">2</text>
<g transform="translate(581.6 308) rotate(-90)"><text transform="translate(-0.9 0) scale(1 1.07)" font-size="11.8" font-weight="normal" fill="#1a1a1a" stroke="#1a1a1a" stroke-width="0.18" textLength="48.53" lengthAdjust="spacingAndGlyphs">max(CD</text><text transform="translate(47.76 -3.8) scale(1 1.07)" font-size="8.3" font-weight="normal" fill="#1a1a1a" stroke="#1a1a1a" stroke-width="0.18" textLength="6.34" lengthAdjust="spacingAndGlyphs">B</text><text transform="translate(54.92 0) scale(1 1.07)" font-size="11.8" font-weight="normal" fill="#1a1a1a" stroke="#1a1a1a" stroke-width="0.18" textLength="3.3" lengthAdjust="spacingAndGlyphs">)</text><text transform="translate(62 0.37) scale(1 1.07)" font-size="12.5" font-weight="normal" fill="#1a1a1a" stroke="#1a1a1a" stroke-width="0.15" textLength="8.6" lengthAdjust="spacingAndGlyphs">×</text><text transform="translate(72.08 0) scale(1 1.07)" font-size="11.8" font-weight="normal" fill="#1a1a1a" stroke="#1a1a1a" stroke-width="0.18" textLength="16.31" lengthAdjust="spacingAndGlyphs">10</text><text transform="translate(88.61 -4.06) scale(1 1.07)" font-size="8.3" font-weight="normal" fill="#1a1a1a" stroke="#1a1a1a" stroke-width="0.18" textLength="7.18" lengthAdjust="spacingAndGlyphs">−</text><text transform="translate(96.22 -4.4) scale(1 1.07)" font-size="8.3" font-weight="normal" fill="#1a1a1a" stroke="#1a1a1a" stroke-width="0.18" textLength="5.84" lengthAdjust="spacingAndGlyphs">3</text></g></svg>
</body></html>
